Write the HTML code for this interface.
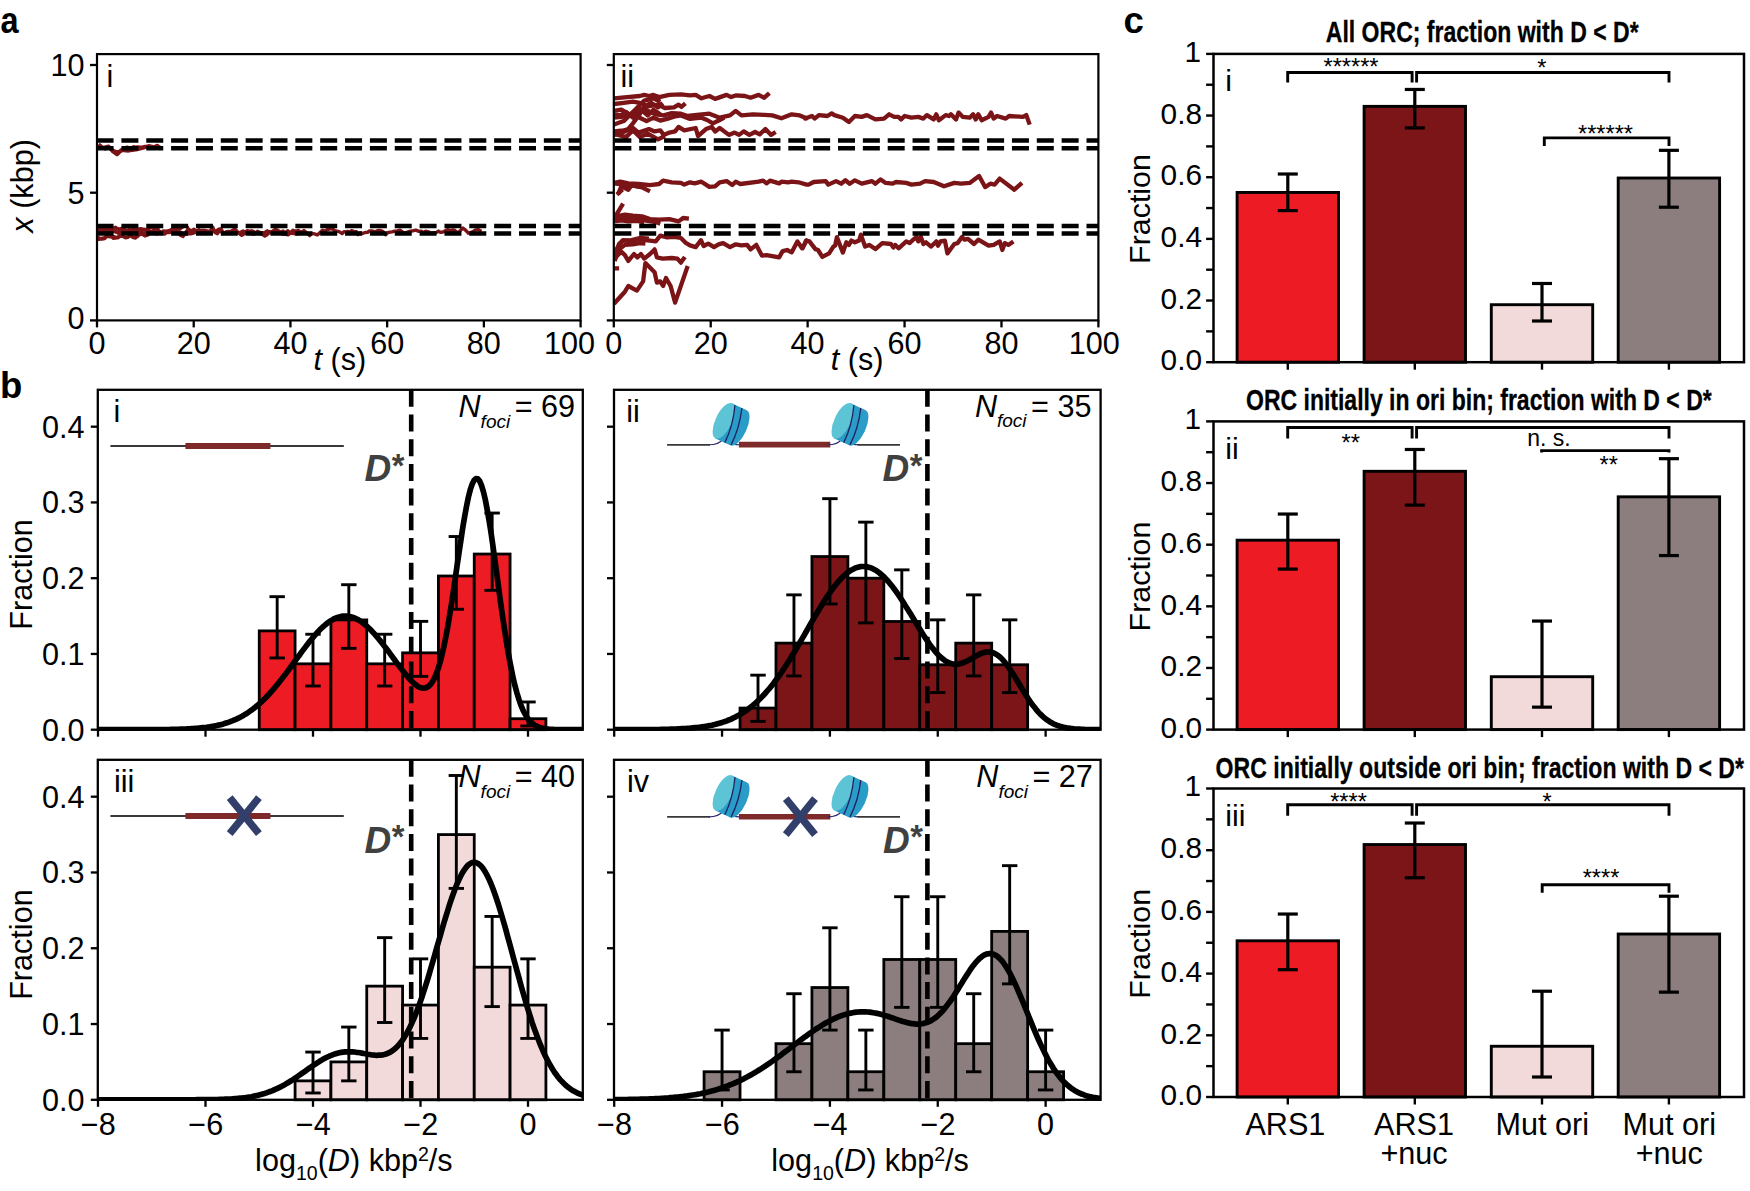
<!DOCTYPE html>
<html><head><meta charset="utf-8"><title>Figure</title>
<style>html,body{margin:0;padding:0;background:#fff;}svg{display:block}text{font-family:"Liberation Sans",Arial,Helvetica,sans-serif;}</style>
</head><body>
<svg width="1750" height="1191" viewBox="0 0 1750 1191">
<rect x="0" y="0" width="1750" height="1191" fill="#fff"/>
<text transform="translate(0.6,32.5) scale(0.89,1)" font-size="36.5" font-weight="bold">a</text>
<defs><clipPath id="ca0"><rect x="97" y="54.1" width="483.6" height="266.29999999999995"/></clipPath><clipPath id="ca1"><rect x="613.8" y="54.1" width="484.60000000000014" height="266.29999999999995"/></clipPath></defs>
<g clip-path="url(#ca0)">
<polyline points="98.6,144.3 102.9,147.9 108.6,146.4 112.9,151.4 117.1,154.3 121.4,150.0 128.6,150.7 137.1,149.3 142.9,147.9 148.6,146.0 154.3,147.1 157.1,145.7 161.4,148.6" fill="none" stroke="#7A1416" stroke-width="3.9" stroke-linejoin="round" stroke-linecap="butt" />
<polyline points="98.0,147.3 100.4,148.2 102.6,147.9 105.2,149.1 107.4,147.9 108.9,148.2 110.9,148.8 113.5,150.3 115.4,151.2 118.2,151.6 120.8,151.3 122.3,149.1 124.3,147.6 127.1,146.9 129.1,147.6 130.8,148.5 133.6,146.5 135.6,146.9 137.8,146.8 140.5,147.0 142.3,146.9 145.1,146.2 147.8,146.4" fill="none" stroke="#7A1416" stroke-width="3.0" stroke-linejoin="round" stroke-linecap="butt" />
<polyline points="97.0,230.1 99.8,229.3 102.9,230.1 104.6,227.9 106.9,231.3 109.9,230.8 111.8,230.2 114.2,231.0 116.7,232.2 118.8,232.0 121.8,231.9 124.6,231.0 126.5,230.8 128.2,230.7 131.1,231.3 134.2,232.3 137.2,231.2 139.6,234.6 142.3,234.1 144.9,236.0 148.0,234.9 150.2,232.7 152.1,232.5 154.3,232.5 156.8,234.0 159.0,233.0 161.1,233.0 163.2,231.0 165.6,231.1 168.7,230.9 170.4,231.2 172.1,228.9 174.9,229.0 176.6,231.4 178.4,232.9 180.3,235.2 183.1,236.4 185.3,232.9 187.5,230.1 189.3,230.4 192.1,231.7 193.8,229.2 196.8,231.3 199.4,232.1 202.4,230.3 204.9,233.4 207.0,232.2 208.8,232.7 210.7,230.6 212.6,226.9 214.3,230.6 216.6,230.9 218.6,229.2 221.0,228.9 223.2,232.9 225.0,233.3 227.4,232.9 230.1,231.7 233.1,230.1 235.0,229.1 237.3,231.7 239.4,233.7 241.7,235.3 244.8,233.6 247.1,230.6 249.5,231.2 251.6,230.8 253.8,231.6 256.9,233.4 259.3,232.1 261.5,232.8 264.3,232.8 267.2,230.8 270.0,232.9 272.7,231.2 274.9,229.5 277.6,230.2 280.4,232.3 283.1,231.1 285.7,234.4 288.2,234.7 290.2,233.4 292.9,230.3 295.5,231.4 298.3,230.4 301.1,232.5 303.9,230.6 306.9,233.1 309.6,235.6 312.0,233.3 314.4,233.8 317.4,234.9 319.8,232.7 322.5,230.3 324.5,231.2 327.1,229.7 329.4,229.0 332.0,228.6 334.7,230.7 337.0,231.2 339.6,231.8 342.2,233.6 344.0,231.8 345.7,231.9 347.6,231.4 349.6,232.2 351.3,230.7 353.9,231.4 356.4,231.7 358.1,234.5 360.3,232.9 362.2,233.6 365.1,232.5 367.6,232.3 369.4,230.9 371.9,230.9 375.0,231.8 377.9,230.5 380.5,230.5 383.0,231.5 385.5,234.8 388.1,232.5 390.2,232.1 392.1,231.9 394.6,231.2 397.2,230.9 400.1,230.2 402.1,231.8 404.2,233.0 407.3,232.1 410.3,231.1 413.4,230.7 415.8,230.1 418.9,231.4 421.3,231.1 423.1,232.8 425.7,231.2 428.5,231.8 431.4,233.3 433.4,232.7 436.5,232.4 438.5,231.1 440.4,232.4 443.0,232.0 445.4,230.7 448.1,229.7 450.0,230.6 452.4,230.0 454.6,230.2 456.9,232.4 459.1,232.0 460.8,230.1 462.9,228.0 465.8,230.4 468.3,233.2 470.6,232.7 473.1,231.7 475.5,229.9 478.5,229.7 481.4,231.4" fill="none" stroke="#7A1416" stroke-width="3.4" stroke-linejoin="round" stroke-linecap="butt" />
<polyline points="97.0,232.9 99.4,230.5 101.4,233.1 103.8,232.7 106.6,231.1 108.6,233.1 111.5,232.6 113.9,231.2 116.6,232.2 119.4,233.7 121.5,233.7 124.4,231.3 126.6,233.6 129.4,234.2 131.7,234.0 134.3,233.7 136.4,234.6 138.4,233.1 141.0,230.9 144.0,233.7 146.4,231.9 149.2,230.6 152.3,232.5 154.9,232.6 157.0,232.0 159.9,231.9 162.4,233.4 164.5,234.1 166.5,232.6 168.5,232.5 171.4,232.4 174.2,232.2 175.9,230.9 178.5,233.8 180.6,232.3 182.4,233.1 185.6,233.9 188.3,233.6 190.6,233.9 193.7,233.1 196.6,231.5 199.0,229.7 201.8,231.3 204.2,230.3 206.9,230.8 209.6,231.7 211.7,229.9 213.6,231.1 215.3,232.8 217.5,233.7 219.6,230.4 221.6,232.1 223.9,233.4 226.0,231.8 228.3,231.3 230.6,231.9 232.7,232.4 235.3,231.4 238.4,232.8 240.9,232.0 243.1,231.0 245.9,232.4 248.9,232.3 251.3,232.5 253.0,234.4 254.9,233.9 257.6,231.3 260.5,233.9 262.3,234.2 264.8,236.1 267.1,234.8 269.5,231.5 271.8,232.8 273.7,233.2 276.3,232.3 278.9,231.9 280.7,233.4 283.1,234.0 286.0,231.9 287.9,230.8 290.8,232.9 293.8,233.5 296.8,234.0 299.4,232.4" fill="none" stroke="#7A1416" stroke-width="3.4" stroke-linejoin="round" stroke-linecap="butt" />
<polyline points="97.0,230.3 99.6,231.1 101.4,229.7 103.2,229.8 105.6,231.5 107.4,231.4 109.2,228.9 111.0,230.8 113.0,228.5 115.5,227.2 117.8,229.1 120.7,229.7 122.8,230.5 124.9,231.1 127.8,231.6 130.4,232.7 132.6,231.3 134.4,230.8 136.3,230.2 138.5,229.1 141.0,228.7 143.8,229.9 146.5,230.3 148.9,232.1 151.9,231.3 155.0,229.9 156.8,228.3 158.7,230.4 161.1,232.4 163.9,232.0 166.4,232.2 169.1,230.7 171.6,229.4 174.5,229.2 177.5,228.0 179.3,229.5 182.0,227.5 184.9,225.6 187.0,226.4 188.7,229.6 191.0,230.3 192.8,231.0 195.6,231.5 197.8,231.8" fill="none" stroke="#7A1416" stroke-width="3.2" stroke-linejoin="round" stroke-linecap="butt" />
<polyline points="97.0,236.0 98.9,239.3 101.6,238.5 104.7,237.7 106.7,235.7 109.0,234.4 111.4,235.8 113.2,238.2 115.2,238.1 117.5,237.0 120.5,235.8 122.5,236.2 125.6,237.7 127.8,237.4 130.5,235.4 132.9,237.3 135.5,238.0 137.4,235.8 139.1,237.2" fill="none" stroke="#7A1416" stroke-width="3.4" stroke-linejoin="round" stroke-linecap="butt" />
<polyline points="97.0,236.9 98.9,237.6 101.8,239.2 104.8,238.7 106.6,236.8 108.3,236.8 110.5,237.0 113.3,236.2 115.2,237.0 117.6,238.1 120.6,236.3 122.8,235.9" fill="none" stroke="#7A1416" stroke-width="3.0" stroke-linejoin="round" stroke-linecap="butt" />
<polyline points="97.0,227.8 99.5,227.8 101.5,229.0 104.1,227.2 106.0,227.0 108.1,227.7 111.1,228.5 114.0,228.6 116.6,228.1 119.2,229.0 121.6,228.3 123.4,227.2 126.2,230.5 128.8,229.5 130.5,229.7 133.6,229.3 135.7,227.7 137.8,229.8 140.3,229.0 142.8,229.0 145.7,229.3 148.0,229.7 149.7,227.4 152.3,228.1 154.8,228.8 157.3,228.3 159.5,228.1" fill="none" stroke="#7A1416" stroke-width="3.0" stroke-linejoin="round" stroke-linecap="butt" />
</g>
<g clip-path="url(#ca1)">
<polyline points="614.0,98.3 627.1,97.1 639.7,96.0 644.3,94.9 648.9,96.0 653.4,94.9 659.1,97.1 669.4,94.9 680.9,94.3 690.0,95.4 695.7,94.9 701.4,98.3 709.4,96.0 715.1,98.9 726.6,94.9 731.1,97.1 735.7,95.4 744.9,96.0 750.6,97.7 758.6,94.9 764.3,97.7 769.4,93.1" fill="none" stroke="#7A1416" stroke-width="4.3" stroke-linejoin="round" stroke-linecap="butt" />
<polyline points="614.0,104.0 623.7,102.9 632.9,101.7 639.7,102.9 647.7,106.3 658.0,104.6 664.9,108.0 674.0,107.4 678.6,104.6 681.4,106.9 685.4,103.4" fill="none" stroke="#7A1416" stroke-width="4.3" stroke-linejoin="round" stroke-linecap="butt" />
<polyline points="614.0,110.9 621.4,109.7 629.4,114.3 638.6,113.1 644.3,108.6 650.0,112.0 655.7,114.3 663.7,115.4 671.7,113.1 680.9,113.7 687.7,116.0 696.9,114.9 709.4,113.7 719.7,117.7 730.0,115.4 735.7,110.9 741.4,115.4 752.9,114.3 764.3,114.9 772.3,115.4 781.4,118.3 791.7,114.3 799.7,115.4 806.6,118.3 805.1,118.6 812.0,116.0 814.6,118.6 818.9,115.1 827.4,116.0 831.7,113.4 834.3,115.1 842.9,117.7 848.9,122.0 854.9,116.0 861.7,116.9 866.9,115.1 875.4,119.4 884.0,118.6 889.1,114.3 894.3,116.9 898.6,116.9 901.1,119.4 904.6,116.0 911.4,117.7 918.3,116.9 923.4,118.6 926.9,115.1 933.7,119.4 936.3,114.3 938.9,120.3 945.7,115.1 949.1,116.0 950.9,114.3 956.0,119.4 958.6,112.6 962.9,116.9 969.7,117.7 973.1,114.3 975.7,119.4 978.3,114.3 981.7,120.3 988.6,116.9 991.1,112.6 993.7,118.6 997.1,116.0 1005.7,118.6 1009.1,116.0 1022.9,116.9 1026.3,115.1 1029.7,124.6" fill="none" stroke="#7A1416" stroke-width="4.3" stroke-linejoin="round" stroke-linecap="butt" />
<polyline points="614.0,117.7 623.7,116.6 632.9,113.1 639.7,117.7 646.6,121.1 653.4,117.7 660.3,120.6 667.1,118.9 674.0,116.6 680.9,115.4 690.0,118.9 701.4,117.7 707.1,120.0 712.9,123.4 719.7,120.0 724.3,117.7" fill="none" stroke="#7A1416" stroke-width="4.3" stroke-linejoin="round" stroke-linecap="butt" />
<polyline points="614.0,131.4 623.7,130.3 632.9,128.0 638.6,132.6 648.9,129.1 654.6,131.4 660.3,130.3 663.7,134.9 669.4,132.6 675.1,131.4 678.6,126.9 684.3,130.3 695.7,128.0 698.0,136.0 706.0,129.1 711.7,126.9 715.1,131.4 719.7,128.0 728.9,134.9 734.6,132.6 739.1,134.9 743.7,131.4 749.4,134.9 755.1,132.0 759.7,134.3 765.4,129.1 771.1,134.9 775.7,132.0" fill="none" stroke="#7A1416" stroke-width="4.3" stroke-linejoin="round" stroke-linecap="butt" />
<polyline points="614.0,134.9 620.3,133.7 627.1,130.3 632.9,123.4 639.7,114.3 644.3,106.3 651.1,102.9 658.0,107.4 662.6,102.9" fill="none" stroke="#7A1416" stroke-width="4.3" stroke-linejoin="round" stroke-linecap="butt" />
<polyline points="614.0,124.6 623.7,121.1 630.6,114.3 637.4,107.4 644.3,100.6 653.4,98.3 660.3,101.7" fill="none" stroke="#7A1416" stroke-width="4.3" stroke-linejoin="round" stroke-linecap="butt" />
<polyline points="614.0,114.3 620.3,115.4 626.0,112.0 632.9,117.7 639.7,108.6 647.7,115.4 653.4,109.7 660.3,114.3" fill="none" stroke="#7A1416" stroke-width="4.3" stroke-linejoin="round" stroke-linecap="butt" />
<polyline points="614.0,133.7 626.0,137.1 632.9,130.3 639.7,137.1 647.7,133.7 658.0,139.4 664.9,136.0" fill="none" stroke="#7A1416" stroke-width="4.3" stroke-linejoin="round" stroke-linecap="butt" />
<polyline points="614.0,182.9 620.3,181.7 628.3,183.4 638.6,184.0 650.0,185.1 659.1,184.0 663.1,180.6 671.7,182.3 680.9,182.9 684.3,184.6 690.0,182.3 694.6,183.4 701.4,181.7 709.4,186.9 715.1,186.3 719.7,182.3 726.6,181.1 732.3,185.1 735.7,181.7 740.3,184.0 758.6,181.7 763.1,180.6 766.6,183.4 770.0,180.6 779.1,183.4 781.4,181.7 788.3,182.3 791.7,181.7 798.6,182.3 806.6,184.6 808.6,184.6 813.7,182.0 825.7,181.1 828.3,184.6 836.0,181.1 841.1,183.7 845.4,180.3 849.7,183.7 854.9,180.3 861.7,183.7 872.0,181.1 875.4,183.7 880.6,179.4 885.7,182.9 892.6,183.7 896.0,182.0 906.3,182.9 911.4,184.6 920.0,183.7 925.1,181.1 933.7,182.0 944.0,186.3 954.3,182.9 961.1,183.7 969.7,182.9 979.1,176.0 985.1,187.1 990.3,183.7 994.6,184.6 999.7,178.6 1014.3,189.7 1022.0,182.9" fill="none" stroke="#7A1416" stroke-width="4.3" stroke-linejoin="round" stroke-linecap="butt" />
<polyline points="618.0,194.3 621.4,186.3 628.3,189.7 631.7,185.1 642.0,187.4 650.0,191.4" fill="none" stroke="#7A1416" stroke-width="4.3" stroke-linejoin="round" stroke-linecap="butt" />
<polyline points="614.0,183.4 623.7,184.6 632.9,185.7 639.7,186.9" fill="none" stroke="#7A1416" stroke-width="4.3" stroke-linejoin="round" stroke-linecap="butt" />
<polyline points="616.9,194.6 622.6,189.4" fill="none" stroke="#7A1416" stroke-width="4.3" stroke-linejoin="round" stroke-linecap="butt" />
<polyline points="614.0,218.6 623.1,203.7" fill="none" stroke="#7A1416" stroke-width="4.3" stroke-linejoin="round" stroke-linecap="butt" />
<polyline points="614.0,216.9 624.9,214.6 632.9,215.7 642.0,216.3 650.0,219.1 659.1,219.7 669.4,219.1 678.6,221.4 683.1,218.0 688.9,218.6" fill="none" stroke="#7A1416" stroke-width="4.3" stroke-linejoin="round" stroke-linecap="butt" />
<polyline points="614.0,219.1 621.4,217.4 630.6,218.6 639.7,219.1 647.7,220.9 655.7,222.0 660.3,223.7" fill="none" stroke="#7A1416" stroke-width="4.3" stroke-linejoin="round" stroke-linecap="butt" />
<polyline points="614.0,221.4 621.4,220.3 628.3,221.4 637.4,220.9 644.3,222.6" fill="none" stroke="#7A1416" stroke-width="4.3" stroke-linejoin="round" stroke-linecap="butt" />
<polyline points="614.0,256.9 619.1,243.7 623.7,240.3 632.9,241.4 638.6,239.1 647.7,240.3 655.7,241.4 660.3,235.7 667.1,237.4 674.0,236.9 680.9,238.0 685.4,242.6 690.0,245.4 695.7,247.1 700.9,240.3 703.7,246.0 708.3,243.7 714.0,247.1 718.6,244.3 723.1,243.1 730.0,247.1 735.7,244.3 741.4,245.4 747.1,244.9 750.6,249.4 756.3,244.9 762.0,255.7 766.6,255.1 779.1,257.4 782.6,251.1 787.1,250.0 791.7,252.3 797.4,241.4 802.0,248.3 806.6,240.3 802.6,248.3 806.0,240.6 809.4,241.4 815.4,249.1 818.0,250.0 822.3,256.9 829.1,253.4 833.4,246.6 835.1,245.7 836.9,237.1 842.9,252.6 846.3,242.3 848.9,244.9 851.4,240.6 854.9,242.3 859.1,240.6 860.9,234.6 865.1,246.6 869.4,244.9 875.4,249.1 882.3,243.1 890.9,244.0 893.4,247.4 895.1,244.9 898.6,248.3 906.3,241.4 909.7,243.1 913.1,239.7 916.6,237.1 918.3,241.4 920.9,237.1 923.4,244.0 926.0,242.3 931.1,246.6 936.3,241.4 938.0,245.7 940.6,241.4 944.9,240.6 947.4,253.4 954.3,244.0 957.7,243.1 962.0,237.1 964.6,239.7 968.0,238.9 974.0,244.0 978.3,239.7 988.6,245.7 993.7,244.9 999.7,241.4 1002.3,250.0 1004.9,243.1 1008.3,244.9 1013.4,241.4" fill="none" stroke="#7A1416" stroke-width="4.3" stroke-linejoin="round" stroke-linecap="butt" />
<polyline points="614.0,254.0 618.0,247.1 622.6,240.3 630.6,240.3 639.7,238.0 648.9,238.6" fill="none" stroke="#7A1416" stroke-width="4.3" stroke-linejoin="round" stroke-linecap="butt" />
<polyline points="614.6,260.9 619.1,249.4 624.9,244.9 632.9,244.3 639.7,243.1 645.4,243.7" fill="none" stroke="#7A1416" stroke-width="4.3" stroke-linejoin="round" stroke-linecap="butt" />
<polyline points="614.0,258.6 621.4,251.7 624.9,255.1 628.3,260.9 634.0,254.0 637.4,257.4 640.9,254.0 644.3,258.6 650.0,254.0 654.6,249.4 656.9,257.4 662.6,258.6 671.7,258.0 677.4,258.6 680.9,262.6 684.9,256.9" fill="none" stroke="#7A1416" stroke-width="4.3" stroke-linejoin="round" stroke-linecap="butt" />
<polyline points="614.0,303.7 624.9,291.7 628.3,286.0 636.9,290.6 643.1,281.4 645.4,263.1 654.6,272.3 656.9,282.6 660.3,281.4 663.1,286.0 666.0,278.0 670.6,286.0 675.1,302.6 687.7,266.0" fill="none" stroke="#7A1416" stroke-width="4.3" stroke-linejoin="round" stroke-linecap="butt" />
<polyline points="614.0,268.3 619.1,268.3" fill="none" stroke="#7A1416" stroke-width="4.3" stroke-linejoin="round" stroke-linecap="butt" />
</g>
<line x1="96.55" y1="140.6" x2="580.6" y2="140.6" stroke="#000" stroke-width="4.5" stroke-dasharray="17 7.85"/>
<line x1="96.55" y1="148.2" x2="580.6" y2="148.2" stroke="#000" stroke-width="4.5" stroke-dasharray="17 7.85"/>
<line x1="96.55" y1="226.1" x2="580.6" y2="226.1" stroke="#000" stroke-width="4.5" stroke-dasharray="17 7.85"/>
<line x1="96.55" y1="233.4" x2="580.6" y2="233.4" stroke="#000" stroke-width="4.5" stroke-dasharray="17 7.85"/>
<rect x="97.00" y="54.10" width="483.60" height="266.30" fill="none" stroke="#000" stroke-width="2.2" />
<line x1="97.00" y1="320.40" x2="97.00" y2="327.40" stroke="#000" stroke-width="2.3" />
<text x="97.00" y="353.60" font-size="30.6" text-anchor="middle" fill="#000" >0</text>
<line x1="193.72" y1="320.40" x2="193.72" y2="327.40" stroke="#000" stroke-width="2.3" />
<text x="193.72" y="353.60" font-size="30.6" text-anchor="middle" fill="#000" >20</text>
<line x1="290.44" y1="320.40" x2="290.44" y2="327.40" stroke="#000" stroke-width="2.3" />
<text x="290.44" y="353.60" font-size="30.6" text-anchor="middle" fill="#000" >40</text>
<line x1="387.16" y1="320.40" x2="387.16" y2="327.40" stroke="#000" stroke-width="2.3" />
<text x="387.16" y="353.60" font-size="30.6" text-anchor="middle" fill="#000" >60</text>
<line x1="483.88" y1="320.40" x2="483.88" y2="327.40" stroke="#000" stroke-width="2.3" />
<text x="483.88" y="353.60" font-size="30.6" text-anchor="middle" fill="#000" >80</text>
<line x1="580.60" y1="320.40" x2="580.60" y2="327.40" stroke="#000" stroke-width="2.3" />
<text x="569.50" y="353.60" font-size="30.6" text-anchor="middle" fill="#000" >100</text>
<line x1="90.00" y1="320.40" x2="97.00" y2="320.40" stroke="#000" stroke-width="2.3" />
<text x="84.60" y="328.90" font-size="30.6" text-anchor="end" fill="#000" >0</text>
<line x1="90.00" y1="192.70" x2="97.00" y2="192.70" stroke="#000" stroke-width="2.3" />
<text x="84.60" y="203.60" font-size="30.6" text-anchor="end" fill="#000" >5</text>
<line x1="90.00" y1="65.00" x2="97.00" y2="65.00" stroke="#000" stroke-width="2.3" />
<text x="84.60" y="75.90" font-size="30.6" text-anchor="end" fill="#000" >10</text>
<text x="339.80" y="369.70" font-size="30.6" text-anchor="middle" fill="#000" ><tspan font-style="italic">t</tspan> (s)</text>
<text x="106.50" y="87.00" font-size="30.6" text-anchor="start" fill="#000" >i</text>
<line x1="614.3499999999999" y1="140.6" x2="1098.4" y2="140.6" stroke="#000" stroke-width="4.5" stroke-dasharray="17 7.85"/>
<line x1="614.3499999999999" y1="148.2" x2="1098.4" y2="148.2" stroke="#000" stroke-width="4.5" stroke-dasharray="17 7.85"/>
<line x1="614.3499999999999" y1="226.1" x2="1098.4" y2="226.1" stroke="#000" stroke-width="4.5" stroke-dasharray="17 7.85"/>
<line x1="614.3499999999999" y1="233.4" x2="1098.4" y2="233.4" stroke="#000" stroke-width="4.5" stroke-dasharray="17 7.85"/>
<rect x="613.80" y="54.10" width="484.60" height="266.30" fill="none" stroke="#000" stroke-width="2.2" />
<line x1="613.80" y1="320.40" x2="613.80" y2="327.40" stroke="#000" stroke-width="2.3" />
<text x="613.80" y="353.60" font-size="30.6" text-anchor="middle" fill="#000" >0</text>
<line x1="710.72" y1="320.40" x2="710.72" y2="327.40" stroke="#000" stroke-width="2.3" />
<text x="710.72" y="353.60" font-size="30.6" text-anchor="middle" fill="#000" >20</text>
<line x1="807.64" y1="320.40" x2="807.64" y2="327.40" stroke="#000" stroke-width="2.3" />
<text x="807.64" y="353.60" font-size="30.6" text-anchor="middle" fill="#000" >40</text>
<line x1="904.56" y1="320.40" x2="904.56" y2="327.40" stroke="#000" stroke-width="2.3" />
<text x="904.56" y="353.60" font-size="30.6" text-anchor="middle" fill="#000" >60</text>
<line x1="1001.48" y1="320.40" x2="1001.48" y2="327.40" stroke="#000" stroke-width="2.3" />
<text x="1001.48" y="353.60" font-size="30.6" text-anchor="middle" fill="#000" >80</text>
<line x1="1098.40" y1="320.40" x2="1098.40" y2="327.40" stroke="#000" stroke-width="2.3" />
<text x="1094.20" y="353.60" font-size="30.6" text-anchor="middle" fill="#000" >100</text>
<line x1="606.80" y1="320.40" x2="613.80" y2="320.40" stroke="#000" stroke-width="2.3" />
<line x1="606.80" y1="192.70" x2="613.80" y2="192.70" stroke="#000" stroke-width="2.3" />
<line x1="606.80" y1="65.00" x2="613.80" y2="65.00" stroke="#000" stroke-width="2.3" />
<text x="857.10" y="369.70" font-size="30.6" text-anchor="middle" fill="#000" ><tspan font-style="italic">t</tspan> (s)</text>
<text x="620.40" y="87.00" font-size="30.6" text-anchor="start" fill="#000" >ii</text>
<text transform="translate(32.5,185.9) rotate(-90)" font-size="30.6" text-anchor="middle"><tspan font-style="italic">x</tspan> (kbp)</text>
<text x="0.00" y="397.50" font-size="36.5" text-anchor="start" fill="#000" font-weight="bold">b</text>
<defs>
<clipPath id="cb0"><rect x="97.8" y="389.8" width="484.99999999999994" height="341.1"/></clipPath>
<clipPath id="cb1"><rect x="614.0" y="389.8" width="486.5999999999999" height="341.1"/></clipPath>
<clipPath id="cb2"><rect x="97.8" y="759.8" width="484.99999999999994" height="341.2"/></clipPath>
<clipPath id="cb3"><rect x="614.0" y="759.8" width="486.5999999999999" height="341.2"/></clipPath>
</defs>
<rect x="259.25" y="630.89" width="35.83" height="98.81" fill="#ED1C24" stroke="#000" stroke-width="2.8" />
<rect x="295.08" y="663.83" width="35.83" height="65.87" fill="#ED1C24" stroke="#000" stroke-width="2.8" />
<rect x="330.92" y="619.91" width="35.83" height="109.79" fill="#ED1C24" stroke="#000" stroke-width="2.8" />
<rect x="366.75" y="663.83" width="35.83" height="65.87" fill="#ED1C24" stroke="#000" stroke-width="2.8" />
<rect x="402.58" y="652.85" width="35.83" height="76.85" fill="#ED1C24" stroke="#000" stroke-width="2.8" />
<rect x="438.41" y="576.00" width="35.83" height="153.70" fill="#ED1C24" stroke="#000" stroke-width="2.8" />
<rect x="474.25" y="554.04" width="35.83" height="175.66" fill="#ED1C24" stroke="#000" stroke-width="2.8" />
<rect x="510.08" y="718.72" width="35.83" height="10.98" fill="#ED1C24" stroke="#000" stroke-width="2.8" />
<line x1="277.17" y1="596.68" x2="277.17" y2="657.96" stroke="#000" stroke-width="2.9" />
<line x1="269.47" y1="596.68" x2="284.87" y2="596.68" stroke="#000" stroke-width="2.9" />
<line x1="269.47" y1="657.96" x2="284.87" y2="657.96" stroke="#000" stroke-width="2.9" />
<line x1="313.00" y1="634.25" x2="313.00" y2="685.99" stroke="#000" stroke-width="2.9" />
<line x1="305.30" y1="634.25" x2="320.70" y2="634.25" stroke="#000" stroke-width="2.9" />
<line x1="305.30" y1="685.99" x2="320.70" y2="685.99" stroke="#000" stroke-width="2.9" />
<line x1="348.83" y1="584.71" x2="348.83" y2="648.34" stroke="#000" stroke-width="2.9" />
<line x1="341.13" y1="584.71" x2="356.53" y2="584.71" stroke="#000" stroke-width="2.9" />
<line x1="341.13" y1="648.34" x2="356.53" y2="648.34" stroke="#000" stroke-width="2.9" />
<line x1="384.67" y1="634.25" x2="384.67" y2="685.99" stroke="#000" stroke-width="2.9" />
<line x1="376.97" y1="634.25" x2="392.37" y2="634.25" stroke="#000" stroke-width="2.9" />
<line x1="376.97" y1="685.99" x2="392.37" y2="685.99" stroke="#000" stroke-width="2.9" />
<line x1="420.50" y1="621.37" x2="420.50" y2="676.37" stroke="#000" stroke-width="2.9" />
<line x1="412.80" y1="621.37" x2="428.20" y2="621.37" stroke="#000" stroke-width="2.9" />
<line x1="412.80" y1="676.37" x2="428.20" y2="676.37" stroke="#000" stroke-width="2.9" />
<line x1="456.33" y1="536.53" x2="456.33" y2="609.25" stroke="#000" stroke-width="2.9" />
<line x1="448.63" y1="536.53" x2="464.03" y2="536.53" stroke="#000" stroke-width="2.9" />
<line x1="448.63" y1="609.25" x2="464.03" y2="609.25" stroke="#000" stroke-width="2.9" />
<line x1="492.16" y1="513.05" x2="492.16" y2="590.32" stroke="#000" stroke-width="2.9" />
<line x1="484.46" y1="513.05" x2="499.86" y2="513.05" stroke="#000" stroke-width="2.9" />
<line x1="484.46" y1="590.32" x2="499.86" y2="590.32" stroke="#000" stroke-width="2.9" />
<line x1="528.00" y1="701.97" x2="528.00" y2="725.99" stroke="#000" stroke-width="2.9" />
<line x1="520.30" y1="701.97" x2="535.70" y2="701.97" stroke="#000" stroke-width="2.9" />
<line x1="520.30" y1="725.99" x2="535.70" y2="725.99" stroke="#000" stroke-width="2.9" />
<line x1="411.2" y1="389.8" x2="411.2" y2="729.7" stroke="#000" stroke-width="4.6" stroke-dasharray="17 7.7"/>
<polyline points="98.0,729.7 99.9,729.7 101.7,729.7 103.6,729.7 105.5,729.7 107.4,729.7 109.2,729.7 111.1,729.7 113.0,729.7 114.8,729.7 116.7,729.7 118.6,729.7 120.5,729.7 122.3,729.7 124.2,729.7 126.1,729.7 127.9,729.7 129.8,729.7 131.7,729.7 133.5,729.7 135.4,729.7 137.3,729.7 139.2,729.7 141.0,729.7 142.9,729.7 144.8,729.7 146.6,729.7 148.5,729.7 150.4,729.6 152.3,729.6 154.1,729.6 156.0,729.6 157.9,729.6 159.7,729.6 161.6,729.6 163.5,729.5 165.4,729.5 167.2,729.5 169.1,729.5 171.0,729.4 172.8,729.4 174.7,729.4 176.6,729.3 178.4,729.3 180.3,729.2 182.2,729.1 184.1,729.1 185.9,729.0 187.8,728.9 189.7,728.8 191.5,728.7 193.4,728.6 195.3,728.4 197.2,728.3 199.0,728.1 200.9,727.9 202.8,727.7 204.6,727.5 206.5,727.3 208.4,727.0 210.3,726.7 212.1,726.4 214.0,726.1 215.9,725.7 217.7,725.3 219.6,724.9 221.5,724.4 223.4,723.9 225.2,723.3 227.1,722.7 229.0,722.1 230.8,721.4 232.7,720.7 234.6,719.9 236.4,719.1 238.3,718.2 240.2,717.2 242.1,716.2 243.9,715.1 245.8,714.0 247.7,712.8 249.5,711.5 251.4,710.2 253.3,708.8 255.2,707.3 257.0,705.8 258.9,704.1 260.8,702.5 262.6,700.7 264.5,698.9 266.4,697.0 268.3,695.0 270.1,693.0 272.0,690.9 273.9,688.7 275.7,686.5 277.6,684.2 279.5,681.9 281.3,679.5 283.2,677.1 285.1,674.6 287.0,672.1 288.8,669.6 290.7,667.0 292.6,664.5 294.4,661.9 296.3,659.3 298.2,656.8 300.1,654.2 301.9,651.6 303.8,649.1 305.7,646.6 307.5,644.2 309.4,641.8 311.3,639.5 313.2,637.2 315.0,635.1 316.9,633.0 318.8,630.9 320.6,629.0 322.5,627.2 324.4,625.6 326.3,624.0 328.1,622.5 330.0,621.2 331.9,620.1 333.7,619.0 335.6,618.2 337.5,617.4 339.3,616.9 341.2,616.4 343.1,616.2 345.0,616.1 346.8,616.1 348.7,616.3 350.6,616.7 352.4,617.2 354.3,617.9 356.2,618.8 358.1,619.7 359.9,620.9 361.8,622.1 363.7,623.5 365.5,625.1 367.4,626.7 369.3,628.5 371.2,630.3 373.0,632.3 374.9,634.4 376.8,636.6 378.6,638.8 380.5,641.1 382.4,643.5 384.2,645.9 386.1,648.3 388.0,650.8 389.9,653.4 391.7,655.9 393.6,658.5 395.5,661.0 397.3,663.6 399.2,666.1 401.1,668.6 403.0,671.0 404.8,673.4 406.7,675.7 408.6,677.8 410.4,679.9 412.3,681.8 414.2,683.6 416.1,685.1 417.9,686.4 419.8,687.4 421.7,688.0 423.5,688.2 425.4,688.0 427.3,687.2 429.2,685.9 431.0,683.8 432.9,681.0 434.8,677.4 436.6,673.0 438.5,667.6 440.4,661.2 442.2,653.9 444.1,645.5 446.0,636.2 447.9,626.0 449.7,614.9 451.6,603.1 453.5,590.7 455.3,578.0 457.2,565.0 459.1,552.1 461.0,539.5 462.8,527.4 464.7,516.2 466.6,506.0 468.4,497.1 470.3,489.7 472.2,484.1 474.1,480.3 475.9,478.6 477.8,478.8 479.7,481.1 481.5,485.4 483.4,491.6 485.3,499.6 487.1,509.1 489.0,519.9 490.9,531.9 492.8,544.8 494.6,558.2 496.5,572.0 498.4,585.9 500.2,599.6 502.1,613.0 504.0,625.9 505.9,638.2 507.7,649.6 509.6,660.2 511.5,669.9 513.3,678.7 515.2,686.6 517.1,693.5 519.0,699.6 520.8,704.8 522.7,709.4 524.6,713.2 526.4,716.4 528.3,719.1 530.2,721.3 532.0,723.1 533.9,724.6 535.8,725.7 537.7,726.6 539.5,727.4 541.4,727.9 543.3,728.4 545.1,728.7 547.0,729.0 548.9,729.2 550.8,729.3 552.6,729.4 554.5,729.5 556.4,729.6 558.2,729.6 560.1,729.6 562.0,729.6 563.9,729.7 565.7,729.7 567.6,729.7 569.5,729.7 571.3,729.7 573.2,729.7 575.1,729.7 577.0,729.7 578.8,729.7 580.7,729.7 582.6,729.7 584.4,729.7" fill="none" stroke="#000" stroke-width="5.7" stroke-linejoin="round" clip-path="url(#cb0)"/>
<rect x="97.80" y="389.80" width="485.00" height="339.90" fill="none" stroke="#000" stroke-width="2.3" />
<line x1="98.00" y1="729.70" x2="98.00" y2="736.70" stroke="#000" stroke-width="2.3" />
<line x1="205.50" y1="729.70" x2="205.50" y2="736.70" stroke="#000" stroke-width="2.3" />
<line x1="313.00" y1="729.70" x2="313.00" y2="736.70" stroke="#000" stroke-width="2.3" />
<line x1="420.50" y1="729.70" x2="420.50" y2="736.70" stroke="#000" stroke-width="2.3" />
<line x1="528.00" y1="729.70" x2="528.00" y2="736.70" stroke="#000" stroke-width="2.3" />
<line x1="90.80" y1="729.70" x2="97.80" y2="729.70" stroke="#000" stroke-width="2.3" />
<text x="84.60" y="740.60" font-size="30.6" text-anchor="end" fill="#000" >0.0</text>
<line x1="90.80" y1="653.95" x2="97.80" y2="653.95" stroke="#000" stroke-width="2.3" />
<text x="84.60" y="664.85" font-size="30.6" text-anchor="end" fill="#000" >0.1</text>
<line x1="90.80" y1="578.20" x2="97.80" y2="578.20" stroke="#000" stroke-width="2.3" />
<text x="84.60" y="589.10" font-size="30.6" text-anchor="end" fill="#000" >0.2</text>
<line x1="90.80" y1="502.44" x2="97.80" y2="502.44" stroke="#000" stroke-width="2.3" />
<text x="84.60" y="513.34" font-size="30.6" text-anchor="end" fill="#000" >0.3</text>
<line x1="90.80" y1="426.69" x2="97.80" y2="426.69" stroke="#000" stroke-width="2.3" />
<text x="84.60" y="437.59" font-size="30.6" text-anchor="end" fill="#000" >0.4</text>
<text transform="translate(31.8,574.5) rotate(-90)" font-size="30.6" text-anchor="middle">Fraction</text>
<text x="113.40" y="421.70" font-size="30.6" text-anchor="start" fill="#000" >i</text>
<text x="575.10" y="417.30" font-size="30.6" text-anchor="end" fill="#000" ><tspan font-style="italic">N</tspan><tspan font-style="italic" font-size="19" dy="10.2">foci</tspan><tspan dy="-10.2" dx="4.5">= 69</tspan></text>
<text x="364.60" y="480.70" font-size="37" text-anchor="start" fill="#404040" font-weight="bold" font-style="italic">D<tspan font-size="32.5" dy="-4.2" dx="-0.9">*</tspan></text>
<line x1="110.40" y1="446.00" x2="343.80" y2="446.00" stroke="#383838" stroke-width="2.0" />
<line x1="185.40" y1="446.00" x2="270.40" y2="446.00" stroke="#7E2A2B" stroke-width="5.8" />
<rect x="740.03" y="708.06" width="35.95" height="21.64" fill="#7B1517" stroke="#000" stroke-width="2.8" />
<rect x="775.98" y="643.13" width="35.95" height="86.57" fill="#7B1517" stroke="#000" stroke-width="2.8" />
<rect x="811.93" y="556.55" width="35.95" height="173.15" fill="#7B1517" stroke="#000" stroke-width="2.8" />
<rect x="847.88" y="578.20" width="35.95" height="151.50" fill="#7B1517" stroke="#000" stroke-width="2.8" />
<rect x="883.84" y="621.48" width="35.95" height="108.22" fill="#7B1517" stroke="#000" stroke-width="2.8" />
<rect x="919.79" y="664.77" width="35.95" height="64.93" fill="#7B1517" stroke="#000" stroke-width="2.8" />
<rect x="955.74" y="643.13" width="35.95" height="86.57" fill="#7B1517" stroke="#000" stroke-width="2.8" />
<rect x="991.69" y="664.77" width="35.95" height="64.93" fill="#7B1517" stroke="#000" stroke-width="2.8" />
<line x1="758.01" y1="675.16" x2="758.01" y2="721.37" stroke="#000" stroke-width="2.9" />
<line x1="750.31" y1="675.16" x2="765.71" y2="675.16" stroke="#000" stroke-width="2.9" />
<line x1="750.31" y1="721.37" x2="765.71" y2="721.37" stroke="#000" stroke-width="2.9" />
<line x1="793.96" y1="594.86" x2="793.96" y2="675.92" stroke="#000" stroke-width="2.9" />
<line x1="786.26" y1="594.86" x2="801.66" y2="594.86" stroke="#000" stroke-width="2.9" />
<line x1="786.26" y1="675.92" x2="801.66" y2="675.92" stroke="#000" stroke-width="2.9" />
<line x1="829.91" y1="498.66" x2="829.91" y2="603.95" stroke="#000" stroke-width="2.9" />
<line x1="822.21" y1="498.66" x2="837.61" y2="498.66" stroke="#000" stroke-width="2.9" />
<line x1="822.21" y1="603.95" x2="837.61" y2="603.95" stroke="#000" stroke-width="2.9" />
<line x1="865.86" y1="522.14" x2="865.86" y2="622.89" stroke="#000" stroke-width="2.9" />
<line x1="858.16" y1="522.14" x2="873.56" y2="522.14" stroke="#000" stroke-width="2.9" />
<line x1="858.16" y1="622.89" x2="873.56" y2="622.89" stroke="#000" stroke-width="2.9" />
<line x1="901.81" y1="569.86" x2="901.81" y2="658.49" stroke="#000" stroke-width="2.9" />
<line x1="894.11" y1="569.86" x2="909.51" y2="569.86" stroke="#000" stroke-width="2.9" />
<line x1="894.11" y1="658.49" x2="909.51" y2="658.49" stroke="#000" stroke-width="2.9" />
<line x1="937.76" y1="619.86" x2="937.76" y2="692.58" stroke="#000" stroke-width="2.9" />
<line x1="930.06" y1="619.86" x2="945.46" y2="619.86" stroke="#000" stroke-width="2.9" />
<line x1="930.06" y1="692.58" x2="945.46" y2="692.58" stroke="#000" stroke-width="2.9" />
<line x1="973.71" y1="594.86" x2="973.71" y2="675.92" stroke="#000" stroke-width="2.9" />
<line x1="966.01" y1="594.86" x2="981.41" y2="594.86" stroke="#000" stroke-width="2.9" />
<line x1="966.01" y1="675.92" x2="981.41" y2="675.92" stroke="#000" stroke-width="2.9" />
<line x1="1009.67" y1="619.86" x2="1009.67" y2="692.58" stroke="#000" stroke-width="2.9" />
<line x1="1001.97" y1="619.86" x2="1017.37" y2="619.86" stroke="#000" stroke-width="2.9" />
<line x1="1001.97" y1="692.58" x2="1017.37" y2="692.58" stroke="#000" stroke-width="2.9" />
<line x1="927.4" y1="389.8" x2="927.4" y2="729.7" stroke="#000" stroke-width="4.6" stroke-dasharray="17 7.7"/>
<polyline points="614.2,729.7 616.1,729.7 618.0,729.7 619.8,729.7 621.7,729.7 623.6,729.7 625.5,729.7 627.3,729.7 629.2,729.7 631.1,729.7 633.0,729.7 634.8,729.7 636.7,729.6 638.6,729.6 640.5,729.6 642.4,729.6 644.2,729.6 646.1,729.6 648.0,729.6 649.9,729.6 651.7,729.5 653.6,729.5 655.5,729.5 657.4,729.5 659.2,729.5 661.1,729.4 663.0,729.4 664.9,729.3 666.8,729.3 668.6,729.3 670.5,729.2 672.4,729.1 674.3,729.1 676.1,729.0 678.0,728.9 679.9,728.8 681.8,728.7 683.7,728.6 685.5,728.5 687.4,728.4 689.3,728.3 691.2,728.1 693.0,727.9 694.9,727.7 696.8,727.5 698.7,727.3 700.5,727.1 702.4,726.8 704.3,726.5 706.2,726.2 708.1,725.9 709.9,725.5 711.8,725.2 713.7,724.7 715.6,724.3 717.4,723.8 719.3,723.3 721.2,722.7 723.1,722.1 724.9,721.5 726.8,720.8 728.7,720.0 730.6,719.3 732.5,718.4 734.3,717.5 736.2,716.6 738.1,715.6 740.0,714.5 741.8,713.4 743.7,712.2 745.6,710.9 747.5,709.6 749.3,708.2 751.2,706.7 753.1,705.2 755.0,703.5 756.9,701.8 758.7,700.1 760.6,698.2 762.5,696.3 764.4,694.3 766.2,692.2 768.1,690.0 770.0,687.8 771.9,685.4 773.8,683.0 775.6,680.5 777.5,678.0 779.4,675.3 781.3,672.6 783.1,669.8 785.0,667.0 786.9,664.1 788.8,661.1 790.6,658.1 792.5,655.0 794.4,651.9 796.3,648.8 798.2,645.6 800.0,642.3 801.9,639.1 803.8,635.8 805.7,632.5 807.5,629.3 809.4,626.0 811.3,622.7 813.2,619.5 815.0,616.2 816.9,613.0 818.8,609.9 820.7,606.8 822.6,603.8 824.4,600.8 826.3,597.9 828.2,595.1 830.1,592.3 831.9,589.7 833.8,587.2 835.7,584.8 837.6,582.5 839.4,580.4 841.3,578.3 843.2,576.5 845.1,574.7 847.0,573.1 848.8,571.7 850.7,570.5 852.6,569.4 854.5,568.4 856.3,567.7 858.2,567.1 860.1,566.7 862.0,566.5 863.9,566.5 865.7,566.6 867.6,566.9 869.5,567.4 871.4,568.1 873.2,568.9 875.1,569.9 877.0,571.1 878.9,572.5 880.7,574.0 882.6,575.6 884.5,577.4 886.4,579.4 888.3,581.5 890.1,583.7 892.0,586.1 893.9,588.5 895.8,591.1 897.6,593.7 899.5,596.5 901.4,599.3 903.3,602.2 905.1,605.2 907.0,608.2 908.9,611.2 910.8,614.3 912.7,617.4 914.5,620.5 916.4,623.6 918.3,626.7 920.2,629.8 922.0,632.8 923.9,635.7 925.8,638.6 927.7,641.4 929.5,644.1 931.4,646.7 933.3,649.1 935.2,651.4 937.1,653.6 938.9,655.5 940.8,657.3 942.7,658.9 944.6,660.3 946.4,661.5 948.3,662.5 950.2,663.3 952.1,663.8 954.0,664.1 955.8,664.2 957.7,664.1 959.6,663.8 961.5,663.3 963.3,662.7 965.2,661.9 967.1,661.0 969.0,660.0 970.8,659.0 972.7,657.9 974.6,656.8 976.5,655.7 978.4,654.8 980.2,653.9 982.1,653.1 984.0,652.5 985.9,652.1 987.7,652.0 989.6,652.0 991.5,652.3 993.4,652.9 995.2,653.8 997.1,654.9 999.0,656.3 1000.9,657.9 1002.8,659.9 1004.6,662.0 1006.5,664.4 1008.4,666.9 1010.3,669.7 1012.1,672.5 1014.0,675.5 1015.9,678.6 1017.8,681.7 1019.6,684.8 1021.5,688.0 1023.4,691.0 1025.3,694.1 1027.2,697.0 1029.0,699.9 1030.9,702.6 1032.8,705.2 1034.7,707.6 1036.5,709.9 1038.4,712.1 1040.3,714.1 1042.2,715.9 1044.1,717.6 1045.9,719.1 1047.8,720.4 1049.7,721.7 1051.6,722.8 1053.4,723.8 1055.3,724.6 1057.2,725.4 1059.1,726.0 1060.9,726.6 1062.8,727.1 1064.7,727.5 1066.6,727.9 1068.5,728.2 1070.3,728.4 1072.2,728.7 1074.1,728.9 1076.0,729.0 1077.8,729.1 1079.7,729.2 1081.6,729.3 1083.5,729.4 1085.3,729.5 1087.2,729.5 1089.1,729.5 1091.0,729.6 1092.9,729.6 1094.7,729.6 1096.6,729.6 1098.5,729.6 1100.4,729.7 1102.2,729.7" fill="none" stroke="#000" stroke-width="5.7" stroke-linejoin="round" clip-path="url(#cb1)"/>
<rect x="614.00" y="389.80" width="486.60" height="339.90" fill="none" stroke="#000" stroke-width="2.3" />
<line x1="614.20" y1="729.70" x2="614.20" y2="736.70" stroke="#000" stroke-width="2.3" />
<line x1="722.05" y1="729.70" x2="722.05" y2="736.70" stroke="#000" stroke-width="2.3" />
<line x1="829.91" y1="729.70" x2="829.91" y2="736.70" stroke="#000" stroke-width="2.3" />
<line x1="937.76" y1="729.70" x2="937.76" y2="736.70" stroke="#000" stroke-width="2.3" />
<line x1="1045.62" y1="729.70" x2="1045.62" y2="736.70" stroke="#000" stroke-width="2.3" />
<line x1="607.00" y1="729.70" x2="614.00" y2="729.70" stroke="#000" stroke-width="2.3" />
<line x1="607.00" y1="653.95" x2="614.00" y2="653.95" stroke="#000" stroke-width="2.3" />
<line x1="607.00" y1="578.20" x2="614.00" y2="578.20" stroke="#000" stroke-width="2.3" />
<line x1="607.00" y1="502.44" x2="614.00" y2="502.44" stroke="#000" stroke-width="2.3" />
<line x1="607.00" y1="426.69" x2="614.00" y2="426.69" stroke="#000" stroke-width="2.3" />
<text x="626.20" y="421.70" font-size="30.6" text-anchor="start" fill="#000" >ii</text>
<text x="1091.50" y="416.70" font-size="30.6" text-anchor="end" fill="#000" ><tspan font-style="italic">N</tspan><tspan font-style="italic" font-size="19" dy="10.2">foci</tspan><tspan dy="-10.2" dx="4.5">= 35</tspan></text>
<text x="882.60" y="481.00" font-size="37" text-anchor="start" fill="#404040" font-weight="bold" font-style="italic">D<tspan font-size="32.5" dy="-4.2" dx="-0.9">*</tspan></text>
<line x1="667.10" y1="444.80" x2="710.00" y2="444.80" stroke="#383838" stroke-width="1.8" />
<line x1="857.50" y1="444.80" x2="900.00" y2="444.80" stroke="#383838" stroke-width="1.8" />
<line x1="738.90" y1="444.60" x2="830.30" y2="444.60" stroke="#7E2A2B" stroke-width="5.6" />
<path d="M708.8,444.8 C716.3,444.8 720.3,442.8 723.3,438.8" fill="none" stroke="#2A2A6E" stroke-width="1.1"/>
<path d="M730.3,441.8 C732.3,444.3 735.3,444.8 739.3,444.8" fill="none" stroke="#2A2A6E" stroke-width="1.1"/>
<g transform="translate(723.7,420.9) rotate(25)">
<ellipse cx="16.3" cy="0" rx="8.2" ry="19.4" fill="#2A9CC8"/>
<rect x="0" y="-19.4" width="16.3" height="38.8" fill="#2A9CC8"/>
<ellipse cx="0" cy="0" rx="8.2" ry="19.4" fill="#5CC4D5"/>
<path d="M3.6,-19.0 Q10.5,0 10.2,19.2" fill="none" stroke="#1F1F5E" stroke-width="1.3"/>
<path d="M11.0,-19.4 Q17.5,0 16.8,18.6" fill="none" stroke="#1F1F5E" stroke-width="1.3"/>
</g>
<path d="M827.7,444.8 C835.2,444.8 839.2,442.8 842.2,438.8" fill="none" stroke="#2A2A6E" stroke-width="1.1"/>
<path d="M849.2,441.8 C851.2,444.3 854.2,444.8 858.2,444.8" fill="none" stroke="#2A2A6E" stroke-width="1.1"/>
<g transform="translate(842.6,420.9) rotate(25)">
<ellipse cx="16.3" cy="0" rx="8.2" ry="19.4" fill="#2A9CC8"/>
<rect x="0" y="-19.4" width="16.3" height="38.8" fill="#2A9CC8"/>
<ellipse cx="0" cy="0" rx="8.2" ry="19.4" fill="#5CC4D5"/>
<path d="M3.6,-19.0 Q10.5,0 10.2,19.2" fill="none" stroke="#1F1F5E" stroke-width="1.3"/>
<path d="M11.0,-19.4 Q17.5,0 16.8,18.6" fill="none" stroke="#1F1F5E" stroke-width="1.3"/>
</g>
<rect x="295.08" y="1080.86" width="35.83" height="18.94" fill="#F2DADA" stroke="#000" stroke-width="2.8" />
<rect x="330.92" y="1061.91" width="35.83" height="37.89" fill="#F2DADA" stroke="#000" stroke-width="2.8" />
<rect x="366.75" y="986.14" width="35.83" height="113.66" fill="#F2DADA" stroke="#000" stroke-width="2.8" />
<rect x="402.58" y="1005.08" width="35.83" height="94.72" fill="#F2DADA" stroke="#000" stroke-width="2.8" />
<rect x="438.41" y="834.59" width="35.83" height="265.21" fill="#F2DADA" stroke="#000" stroke-width="2.8" />
<rect x="474.25" y="967.19" width="35.83" height="132.61" fill="#F2DADA" stroke="#000" stroke-width="2.8" />
<rect x="510.08" y="1005.08" width="35.83" height="94.72" fill="#F2DADA" stroke="#000" stroke-width="2.8" />
<line x1="313.00" y1="1052.06" x2="313.00" y2="1092.98" stroke="#000" stroke-width="2.9" />
<line x1="305.30" y1="1052.06" x2="320.70" y2="1052.06" stroke="#000" stroke-width="2.9" />
<line x1="305.30" y1="1092.98" x2="320.70" y2="1092.98" stroke="#000" stroke-width="2.9" />
<line x1="348.83" y1="1027.06" x2="348.83" y2="1080.86" stroke="#000" stroke-width="2.9" />
<line x1="341.13" y1="1027.06" x2="356.53" y2="1027.06" stroke="#000" stroke-width="2.9" />
<line x1="341.13" y1="1080.86" x2="356.53" y2="1080.86" stroke="#000" stroke-width="2.9" />
<line x1="384.67" y1="937.64" x2="384.67" y2="1022.51" stroke="#000" stroke-width="2.9" />
<line x1="376.97" y1="937.64" x2="392.37" y2="937.64" stroke="#000" stroke-width="2.9" />
<line x1="376.97" y1="1022.51" x2="392.37" y2="1022.51" stroke="#000" stroke-width="2.9" />
<line x1="420.50" y1="958.86" x2="420.50" y2="1038.42" stroke="#000" stroke-width="2.9" />
<line x1="412.80" y1="958.86" x2="428.20" y2="958.86" stroke="#000" stroke-width="2.9" />
<line x1="412.80" y1="1038.42" x2="428.20" y2="1038.42" stroke="#000" stroke-width="2.9" />
<line x1="456.33" y1="775.49" x2="456.33" y2="888.39" stroke="#000" stroke-width="2.9" />
<line x1="448.63" y1="775.49" x2="464.03" y2="775.49" stroke="#000" stroke-width="2.9" />
<line x1="448.63" y1="888.39" x2="464.03" y2="888.39" stroke="#000" stroke-width="2.9" />
<line x1="492.16" y1="916.43" x2="492.16" y2="1006.60" stroke="#000" stroke-width="2.9" />
<line x1="484.46" y1="916.43" x2="499.86" y2="916.43" stroke="#000" stroke-width="2.9" />
<line x1="484.46" y1="1006.60" x2="499.86" y2="1006.60" stroke="#000" stroke-width="2.9" />
<line x1="528.00" y1="958.86" x2="528.00" y2="1038.42" stroke="#000" stroke-width="2.9" />
<line x1="520.30" y1="958.86" x2="535.70" y2="958.86" stroke="#000" stroke-width="2.9" />
<line x1="520.30" y1="1038.42" x2="535.70" y2="1038.42" stroke="#000" stroke-width="2.9" />
<line x1="411.2" y1="759.8" x2="411.2" y2="1099.8" stroke="#000" stroke-width="4.6" stroke-dasharray="17 7.7"/>
<polyline points="98.0,1099.8 99.9,1099.8 101.7,1099.8 103.6,1099.8 105.5,1099.8 107.4,1099.8 109.2,1099.8 111.1,1099.8 113.0,1099.8 114.8,1099.8 116.7,1099.8 118.6,1099.8 120.5,1099.8 122.3,1099.8 124.2,1099.8 126.1,1099.8 127.9,1099.8 129.8,1099.8 131.7,1099.8 133.5,1099.8 135.4,1099.8 137.3,1099.8 139.2,1099.8 141.0,1099.8 142.9,1099.8 144.8,1099.8 146.6,1099.8 148.5,1099.8 150.4,1099.8 152.3,1099.8 154.1,1099.8 156.0,1099.8 157.9,1099.8 159.7,1099.8 161.6,1099.8 163.5,1099.8 165.4,1099.8 167.2,1099.8 169.1,1099.8 171.0,1099.8 172.8,1099.8 174.7,1099.8 176.6,1099.8 178.4,1099.8 180.3,1099.8 182.2,1099.8 184.1,1099.8 185.9,1099.8 187.8,1099.8 189.7,1099.8 191.5,1099.8 193.4,1099.8 195.3,1099.8 197.2,1099.7 199.0,1099.7 200.9,1099.7 202.8,1099.7 204.6,1099.7 206.5,1099.7 208.4,1099.7 210.3,1099.6 212.1,1099.6 214.0,1099.6 215.9,1099.5 217.7,1099.5 219.6,1099.4 221.5,1099.4 223.4,1099.3 225.2,1099.2 227.1,1099.2 229.0,1099.1 230.8,1099.0 232.7,1098.8 234.6,1098.7 236.4,1098.6 238.3,1098.4 240.2,1098.2 242.1,1098.0 243.9,1097.8 245.8,1097.6 247.7,1097.3 249.5,1097.0 251.4,1096.7 253.3,1096.3 255.2,1095.9 257.0,1095.5 258.9,1095.1 260.8,1094.6 262.6,1094.0 264.5,1093.5 266.4,1092.9 268.3,1092.2 270.1,1091.5 272.0,1090.8 273.9,1090.0 275.7,1089.2 277.6,1088.3 279.5,1087.4 281.3,1086.4 283.2,1085.4 285.1,1084.4 287.0,1083.3 288.8,1082.2 290.7,1081.0 292.6,1079.8 294.4,1078.6 296.3,1077.3 298.2,1076.0 300.1,1074.7 301.9,1073.4 303.8,1072.1 305.7,1070.8 307.5,1069.4 309.4,1068.1 311.3,1066.8 313.2,1065.5 315.0,1064.3 316.9,1063.1 318.8,1061.9 320.6,1060.7 322.5,1059.6 324.4,1058.6 326.3,1057.6 328.1,1056.7 330.0,1055.8 331.9,1055.1 333.7,1054.4 335.6,1053.8 337.5,1053.2 339.3,1052.8 341.2,1052.4 343.1,1052.1 345.0,1051.9 346.8,1051.8 348.7,1051.8 350.6,1051.8 352.4,1051.9 354.3,1052.0 356.2,1052.3 358.1,1052.5 359.9,1052.8 361.8,1053.1 363.7,1053.5 365.5,1053.8 367.4,1054.2 369.3,1054.5 371.2,1054.8 373.0,1055.0 374.9,1055.2 376.8,1055.3 378.6,1055.2 380.5,1055.1 382.4,1054.9 384.2,1054.5 386.1,1054.0 388.0,1053.2 389.9,1052.3 391.7,1051.2 393.6,1049.9 395.5,1048.3 397.3,1046.5 399.2,1044.4 401.1,1042.1 403.0,1039.5 404.8,1036.6 406.7,1033.4 408.6,1029.9 410.4,1026.2 412.3,1022.1 414.2,1017.8 416.1,1013.2 417.9,1008.3 419.8,1003.2 421.7,997.8 423.5,992.2 425.4,986.3 427.3,980.3 429.2,974.1 431.0,967.8 432.9,961.4 434.8,954.9 436.6,948.3 438.5,941.7 440.4,935.2 442.2,928.7 444.1,922.3 446.0,916.1 447.9,910.0 449.7,904.1 451.6,898.5 453.5,893.2 455.3,888.2 457.2,883.5 459.1,879.3 461.0,875.4 462.8,872.1 464.7,869.2 466.6,866.7 468.4,864.8 470.3,863.5 472.2,862.6 474.1,862.3 475.9,862.6 477.8,863.4 479.7,864.8 481.5,866.6 483.4,869.0 485.3,872.0 487.1,875.3 489.0,879.2 490.9,883.5 492.8,888.2 494.6,893.3 496.5,898.7 498.4,904.5 500.2,910.5 502.1,916.8 504.0,923.2 505.9,929.9 507.7,936.7 509.6,943.5 511.5,950.4 513.3,957.4 515.2,964.3 517.1,971.3 519.0,978.1 520.8,984.8 522.7,991.5 524.6,997.9 526.4,1004.3 528.3,1010.4 530.2,1016.3 532.0,1022.1 533.9,1027.6 535.8,1032.8 537.7,1037.9 539.5,1042.6 541.4,1047.2 543.3,1051.5 545.1,1055.5 547.0,1059.3 548.9,1062.9 550.8,1066.2 552.6,1069.3 554.5,1072.2 556.4,1074.8 558.2,1077.3 560.1,1079.6 562.0,1081.6 563.9,1083.5 565.7,1085.3 567.6,1086.9 569.5,1088.3 571.3,1089.6 573.2,1090.8 575.1,1091.8 577.0,1092.8 578.8,1093.6 580.7,1094.4 582.6,1095.1 584.4,1095.7" fill="none" stroke="#000" stroke-width="5.7" stroke-linejoin="round" clip-path="url(#cb2)"/>
<rect x="97.80" y="759.80" width="485.00" height="340.00" fill="none" stroke="#000" stroke-width="2.3" />
<line x1="98.00" y1="1099.80" x2="98.00" y2="1106.80" stroke="#000" stroke-width="2.3" />
<text x="98.30" y="1134.50" font-size="30.6" text-anchor="middle" fill="#000" >−8</text>
<line x1="205.50" y1="1099.80" x2="205.50" y2="1106.80" stroke="#000" stroke-width="2.3" />
<text x="205.80" y="1134.50" font-size="30.6" text-anchor="middle" fill="#000" >−6</text>
<line x1="313.00" y1="1099.80" x2="313.00" y2="1106.80" stroke="#000" stroke-width="2.3" />
<text x="313.30" y="1134.50" font-size="30.6" text-anchor="middle" fill="#000" >−4</text>
<line x1="420.50" y1="1099.80" x2="420.50" y2="1106.80" stroke="#000" stroke-width="2.3" />
<text x="420.80" y="1134.50" font-size="30.6" text-anchor="middle" fill="#000" >−2</text>
<line x1="528.00" y1="1099.80" x2="528.00" y2="1106.80" stroke="#000" stroke-width="2.3" />
<text x="528.00" y="1134.50" font-size="30.6" text-anchor="middle" fill="#000" >0</text>
<line x1="90.80" y1="1099.80" x2="97.80" y2="1099.80" stroke="#000" stroke-width="2.3" />
<text x="84.60" y="1110.70" font-size="30.6" text-anchor="end" fill="#000" >0.0</text>
<line x1="90.80" y1="1024.03" x2="97.80" y2="1024.03" stroke="#000" stroke-width="2.3" />
<text x="84.60" y="1034.93" font-size="30.6" text-anchor="end" fill="#000" >0.1</text>
<line x1="90.80" y1="948.25" x2="97.80" y2="948.25" stroke="#000" stroke-width="2.3" />
<text x="84.60" y="959.15" font-size="30.6" text-anchor="end" fill="#000" >0.2</text>
<line x1="90.80" y1="872.48" x2="97.80" y2="872.48" stroke="#000" stroke-width="2.3" />
<text x="84.60" y="883.38" font-size="30.6" text-anchor="end" fill="#000" >0.3</text>
<line x1="90.80" y1="796.70" x2="97.80" y2="796.70" stroke="#000" stroke-width="2.3" />
<text x="84.60" y="807.60" font-size="30.6" text-anchor="end" fill="#000" >0.4</text>
<text transform="translate(31.8,944.6) rotate(-90)" font-size="30.6" text-anchor="middle">Fraction</text>
<text x="255.1" y="1171.0" font-size="30.6">log<tspan font-size="19.5" dy="9">10</tspan><tspan dy="-9">(</tspan><tspan font-style="italic">D</tspan>) kbp<tspan font-size="19.5" dy="-10.5">2</tspan><tspan dy="10.5">/s</tspan></text>
<text x="113.90" y="791.70" font-size="30.6" text-anchor="start" fill="#000" >iii</text>
<text x="575.10" y="787.30" font-size="30.6" text-anchor="end" fill="#000" ><tspan font-style="italic">N</tspan><tspan font-style="italic" font-size="19" dy="10.2">foci</tspan><tspan dy="-10.2" dx="4.5">= 40</tspan></text>
<text x="364.60" y="852.60" font-size="37" text-anchor="start" fill="#404040" font-weight="bold" font-style="italic">D<tspan font-size="32.5" dy="-4.2" dx="-0.9">*</tspan></text>
<line x1="110.40" y1="816.00" x2="343.80" y2="816.00" stroke="#383838" stroke-width="2.0" />
<line x1="185.40" y1="816.00" x2="270.40" y2="816.00" stroke="#7E2A2B" stroke-width="5.8" />
<line x1="229.7" y1="797.7" x2="258.9" y2="833.7" stroke="#323F6B" stroke-width="7.4"/>
<line x1="229.7" y1="833.7" x2="258.9" y2="797.7" stroke="#323F6B" stroke-width="7.4"/>
<rect x="704.08" y="1071.74" width="35.95" height="28.06" fill="#8C7E7E" stroke="#000" stroke-width="2.8" />
<rect x="775.98" y="1043.67" width="35.95" height="56.13" fill="#8C7E7E" stroke="#000" stroke-width="2.8" />
<rect x="811.93" y="987.54" width="35.95" height="112.26" fill="#8C7E7E" stroke="#000" stroke-width="2.8" />
<rect x="847.88" y="1071.74" width="35.95" height="28.06" fill="#8C7E7E" stroke="#000" stroke-width="2.8" />
<rect x="883.84" y="959.48" width="35.95" height="140.32" fill="#8C7E7E" stroke="#000" stroke-width="2.8" />
<rect x="919.79" y="959.48" width="35.95" height="140.32" fill="#8C7E7E" stroke="#000" stroke-width="2.8" />
<rect x="955.74" y="1043.67" width="35.95" height="56.13" fill="#8C7E7E" stroke="#000" stroke-width="2.8" />
<rect x="991.69" y="931.41" width="35.95" height="168.39" fill="#8C7E7E" stroke="#000" stroke-width="2.8" />
<rect x="1027.64" y="1071.74" width="35.95" height="28.06" fill="#8C7E7E" stroke="#000" stroke-width="2.8" />
<line x1="722.05" y1="1030.09" x2="722.05" y2="1089.95" stroke="#000" stroke-width="2.9" />
<line x1="714.35" y1="1030.09" x2="729.75" y2="1030.09" stroke="#000" stroke-width="2.9" />
<line x1="714.35" y1="1089.95" x2="729.75" y2="1089.95" stroke="#000" stroke-width="2.9" />
<line x1="793.96" y1="993.72" x2="793.96" y2="1071.76" stroke="#000" stroke-width="2.9" />
<line x1="786.26" y1="993.72" x2="801.66" y2="993.72" stroke="#000" stroke-width="2.9" />
<line x1="786.26" y1="1071.76" x2="801.66" y2="1071.76" stroke="#000" stroke-width="2.9" />
<line x1="829.91" y1="927.79" x2="829.91" y2="1030.09" stroke="#000" stroke-width="2.9" />
<line x1="822.21" y1="927.79" x2="837.61" y2="927.79" stroke="#000" stroke-width="2.9" />
<line x1="822.21" y1="1030.09" x2="837.61" y2="1030.09" stroke="#000" stroke-width="2.9" />
<line x1="865.86" y1="1030.09" x2="865.86" y2="1089.95" stroke="#000" stroke-width="2.9" />
<line x1="858.16" y1="1030.09" x2="873.56" y2="1030.09" stroke="#000" stroke-width="2.9" />
<line x1="858.16" y1="1089.95" x2="873.56" y2="1089.95" stroke="#000" stroke-width="2.9" />
<line x1="901.81" y1="896.72" x2="901.81" y2="1007.36" stroke="#000" stroke-width="2.9" />
<line x1="894.11" y1="896.72" x2="909.51" y2="896.72" stroke="#000" stroke-width="2.9" />
<line x1="894.11" y1="1007.36" x2="909.51" y2="1007.36" stroke="#000" stroke-width="2.9" />
<line x1="937.76" y1="896.72" x2="937.76" y2="1007.36" stroke="#000" stroke-width="2.9" />
<line x1="930.06" y1="896.72" x2="945.46" y2="896.72" stroke="#000" stroke-width="2.9" />
<line x1="930.06" y1="1007.36" x2="945.46" y2="1007.36" stroke="#000" stroke-width="2.9" />
<line x1="973.71" y1="993.72" x2="973.71" y2="1071.76" stroke="#000" stroke-width="2.9" />
<line x1="966.01" y1="993.72" x2="981.41" y2="993.72" stroke="#000" stroke-width="2.9" />
<line x1="966.01" y1="1071.76" x2="981.41" y2="1071.76" stroke="#000" stroke-width="2.9" />
<line x1="1009.67" y1="865.66" x2="1009.67" y2="983.87" stroke="#000" stroke-width="2.9" />
<line x1="1001.97" y1="865.66" x2="1017.37" y2="865.66" stroke="#000" stroke-width="2.9" />
<line x1="1001.97" y1="983.87" x2="1017.37" y2="983.87" stroke="#000" stroke-width="2.9" />
<line x1="1045.62" y1="1030.09" x2="1045.62" y2="1089.95" stroke="#000" stroke-width="2.9" />
<line x1="1037.92" y1="1030.09" x2="1053.32" y2="1030.09" stroke="#000" stroke-width="2.9" />
<line x1="1037.92" y1="1089.95" x2="1053.32" y2="1089.95" stroke="#000" stroke-width="2.9" />
<line x1="927.4" y1="759.8" x2="927.4" y2="1099.8" stroke="#000" stroke-width="4.6" stroke-dasharray="17 7.7"/>
<polyline points="614.2,1099.6 616.1,1099.6 618.0,1099.6 619.8,1099.6 621.7,1099.6 623.6,1099.5 625.5,1099.5 627.3,1099.5 629.2,1099.4 631.1,1099.4 633.0,1099.4 634.8,1099.3 636.7,1099.3 638.6,1099.3 640.5,1099.2 642.4,1099.2 644.2,1099.1 646.1,1099.0 648.0,1099.0 649.9,1098.9 651.7,1098.8 653.6,1098.8 655.5,1098.7 657.4,1098.6 659.2,1098.5 661.1,1098.4 663.0,1098.3 664.9,1098.1 666.8,1098.0 668.6,1097.9 670.5,1097.7 672.4,1097.6 674.3,1097.4 676.1,1097.2 678.0,1097.0 679.9,1096.8 681.8,1096.6 683.7,1096.4 685.5,1096.1 687.4,1095.9 689.3,1095.6 691.2,1095.3 693.0,1095.0 694.9,1094.7 696.8,1094.4 698.7,1094.0 700.5,1093.7 702.4,1093.3 704.3,1092.9 706.2,1092.4 708.1,1092.0 709.9,1091.5 711.8,1091.0 713.7,1090.5 715.6,1090.0 717.4,1089.4 719.3,1088.8 721.2,1088.2 723.1,1087.6 724.9,1086.9 726.8,1086.2 728.7,1085.5 730.6,1084.7 732.5,1084.0 734.3,1083.2 736.2,1082.3 738.1,1081.5 740.0,1080.6 741.8,1079.7 743.7,1078.8 745.6,1077.8 747.5,1076.8 749.3,1075.8 751.2,1074.7 753.1,1073.6 755.0,1072.5 756.9,1071.4 758.7,1070.3 760.6,1069.1 762.5,1067.9 764.4,1066.6 766.2,1065.4 768.1,1064.1 770.0,1062.8 771.9,1061.5 773.8,1060.2 775.6,1058.8 777.5,1057.5 779.4,1056.1 781.3,1054.7 783.1,1053.3 785.0,1051.9 786.9,1050.5 788.8,1049.1 790.6,1047.6 792.5,1046.2 794.4,1044.8 796.3,1043.4 798.2,1041.9 800.0,1040.5 801.9,1039.1 803.8,1037.7 805.7,1036.4 807.5,1035.0 809.4,1033.6 811.3,1032.3 813.2,1031.0 815.0,1029.7 816.9,1028.5 818.8,1027.3 820.7,1026.1 822.6,1024.9 824.4,1023.8 826.3,1022.7 828.2,1021.7 830.1,1020.7 831.9,1019.7 833.8,1018.8 835.7,1018.0 837.6,1017.2 839.4,1016.4 841.3,1015.7 843.2,1015.1 845.1,1014.5 847.0,1014.0 848.8,1013.5 850.7,1013.1 852.6,1012.7 854.5,1012.4 856.3,1012.2 858.2,1012.0 860.1,1011.9 862.0,1011.8 863.9,1011.8 865.7,1011.9 867.6,1012.0 869.5,1012.2 871.4,1012.4 873.2,1012.7 875.1,1013.0 877.0,1013.4 878.9,1013.8 880.7,1014.3 882.6,1014.8 884.5,1015.4 886.4,1015.9 888.3,1016.5 890.1,1017.2 892.0,1017.8 893.9,1018.4 895.8,1019.1 897.6,1019.7 899.5,1020.4 901.4,1021.0 903.3,1021.6 905.1,1022.1 907.0,1022.6 908.9,1023.0 910.8,1023.4 912.7,1023.7 914.5,1023.9 916.4,1024.1 918.3,1024.1 920.2,1024.0 922.0,1023.7 923.9,1023.4 925.8,1022.8 927.7,1022.2 929.5,1021.4 931.4,1020.4 933.3,1019.2 935.2,1017.9 937.1,1016.4 938.9,1014.7 940.8,1012.9 942.7,1010.8 944.6,1008.6 946.4,1006.3 948.3,1003.8 950.2,1001.2 952.1,998.5 954.0,995.6 955.8,992.7 957.7,989.7 959.6,986.6 961.5,983.6 963.3,980.5 965.2,977.5 967.1,974.6 969.0,971.7 970.8,968.9 972.7,966.3 974.6,963.9 976.5,961.7 978.4,959.6 980.2,957.9 982.1,956.4 984.0,955.2 985.9,954.3 987.7,953.8 989.6,953.6 991.5,953.7 993.4,954.2 995.2,955.0 997.1,956.2 999.0,957.8 1000.9,959.7 1002.8,961.9 1004.6,964.5 1006.5,967.4 1008.4,970.5 1010.3,973.9 1012.1,977.6 1014.0,981.5 1015.9,985.6 1017.8,989.8 1019.6,994.2 1021.5,998.7 1023.4,1003.2 1025.3,1007.8 1027.2,1012.5 1029.0,1017.1 1030.9,1021.7 1032.8,1026.3 1034.7,1030.8 1036.5,1035.2 1038.4,1039.5 1040.3,1043.6 1042.2,1047.6 1044.1,1051.5 1045.9,1055.2 1047.8,1058.8 1049.7,1062.1 1051.6,1065.3 1053.4,1068.3 1055.3,1071.1 1057.2,1073.8 1059.1,1076.2 1060.9,1078.5 1062.8,1080.6 1064.7,1082.6 1066.6,1084.4 1068.5,1086.0 1070.3,1087.5 1072.2,1088.9 1074.1,1090.1 1076.0,1091.3 1077.8,1092.3 1079.7,1093.2 1081.6,1094.0 1083.5,1094.7 1085.3,1095.4 1087.2,1095.9 1089.1,1096.4 1091.0,1096.9 1092.9,1097.3 1094.7,1097.6 1096.6,1097.9 1098.5,1098.2 1100.4,1098.4 1102.2,1098.6" fill="none" stroke="#000" stroke-width="5.7" stroke-linejoin="round" clip-path="url(#cb3)"/>
<rect x="614.00" y="759.80" width="486.60" height="340.00" fill="none" stroke="#000" stroke-width="2.3" />
<line x1="614.20" y1="1099.80" x2="614.20" y2="1106.80" stroke="#000" stroke-width="2.3" />
<text x="614.50" y="1134.50" font-size="30.6" text-anchor="middle" fill="#000" >−8</text>
<line x1="722.05" y1="1099.80" x2="722.05" y2="1106.80" stroke="#000" stroke-width="2.3" />
<text x="722.35" y="1134.50" font-size="30.6" text-anchor="middle" fill="#000" >−6</text>
<line x1="829.91" y1="1099.80" x2="829.91" y2="1106.80" stroke="#000" stroke-width="2.3" />
<text x="830.21" y="1134.50" font-size="30.6" text-anchor="middle" fill="#000" >−4</text>
<line x1="937.76" y1="1099.80" x2="937.76" y2="1106.80" stroke="#000" stroke-width="2.3" />
<text x="938.06" y="1134.50" font-size="30.6" text-anchor="middle" fill="#000" >−2</text>
<line x1="1045.62" y1="1099.80" x2="1045.62" y2="1106.80" stroke="#000" stroke-width="2.3" />
<text x="1045.62" y="1134.50" font-size="30.6" text-anchor="middle" fill="#000" >0</text>
<line x1="607.00" y1="1099.80" x2="614.00" y2="1099.80" stroke="#000" stroke-width="2.3" />
<line x1="607.00" y1="1024.03" x2="614.00" y2="1024.03" stroke="#000" stroke-width="2.3" />
<line x1="607.00" y1="948.25" x2="614.00" y2="948.25" stroke="#000" stroke-width="2.3" />
<line x1="607.00" y1="872.48" x2="614.00" y2="872.48" stroke="#000" stroke-width="2.3" />
<line x1="607.00" y1="796.70" x2="614.00" y2="796.70" stroke="#000" stroke-width="2.3" />
<text x="771.3" y="1171.0" font-size="30.6">log<tspan font-size="19.5" dy="9">10</tspan><tspan dy="-9">(</tspan><tspan font-style="italic">D</tspan>) kbp<tspan font-size="19.5" dy="-10.5">2</tspan><tspan dy="10.5">/s</tspan></text>
<text x="626.90" y="791.70" font-size="30.6" text-anchor="start" fill="#000" >iv</text>
<text x="1092.90" y="787.30" font-size="30.6" text-anchor="end" fill="#000" ><tspan font-style="italic">N</tspan><tspan font-style="italic" font-size="19" dy="10.2">foci</tspan><tspan dy="-10.2" dx="4.5">= 27</tspan></text>
<text x="883.10" y="852.60" font-size="37" text-anchor="start" fill="#404040" font-weight="bold" font-style="italic">D<tspan font-size="32.5" dy="-4.2" dx="-0.9">*</tspan></text>
<line x1="667.10" y1="816.90" x2="710.00" y2="816.90" stroke="#383838" stroke-width="1.8" />
<line x1="857.50" y1="816.90" x2="900.00" y2="816.90" stroke="#383838" stroke-width="1.8" />
<line x1="738.90" y1="816.70" x2="830.30" y2="816.70" stroke="#7E2A2B" stroke-width="5.6" />
<path d="M708.8,816.9 C716.3,816.9 720.3,814.9 723.3,810.9" fill="none" stroke="#2A2A6E" stroke-width="1.1"/>
<path d="M730.3,813.9 C732.3,816.4 735.3,816.9 739.3,816.9" fill="none" stroke="#2A2A6E" stroke-width="1.1"/>
<g transform="translate(723.7,793.0) rotate(25)">
<ellipse cx="16.3" cy="0" rx="8.2" ry="19.4" fill="#2A9CC8"/>
<rect x="0" y="-19.4" width="16.3" height="38.8" fill="#2A9CC8"/>
<ellipse cx="0" cy="0" rx="8.2" ry="19.4" fill="#5CC4D5"/>
<path d="M3.6,-19.0 Q10.5,0 10.2,19.2" fill="none" stroke="#1F1F5E" stroke-width="1.3"/>
<path d="M11.0,-19.4 Q17.5,0 16.8,18.6" fill="none" stroke="#1F1F5E" stroke-width="1.3"/>
</g>
<path d="M827.7,816.9 C835.2,816.9 839.2,814.9 842.2,810.9" fill="none" stroke="#2A2A6E" stroke-width="1.1"/>
<path d="M849.2,813.9 C851.2,816.4 854.2,816.9 858.2,816.9" fill="none" stroke="#2A2A6E" stroke-width="1.1"/>
<g transform="translate(842.6,793.0) rotate(25)">
<ellipse cx="16.3" cy="0" rx="8.2" ry="19.4" fill="#2A9CC8"/>
<rect x="0" y="-19.4" width="16.3" height="38.8" fill="#2A9CC8"/>
<ellipse cx="0" cy="0" rx="8.2" ry="19.4" fill="#5CC4D5"/>
<path d="M3.6,-19.0 Q10.5,0 10.2,19.2" fill="none" stroke="#1F1F5E" stroke-width="1.3"/>
<path d="M11.0,-19.4 Q17.5,0 16.8,18.6" fill="none" stroke="#1F1F5E" stroke-width="1.3"/>
</g>
<line x1="785.8" y1="798.7" x2="815.0" y2="834.7" stroke="#323F6B" stroke-width="7.4"/>
<line x1="785.8" y1="834.7" x2="815.0" y2="798.7" stroke="#323F6B" stroke-width="7.4"/>
<text x="1123.40" y="32.80" font-size="36.5" text-anchor="start" fill="#000" font-weight="bold">c</text>
<rect x="1237.10" y="192.46" width="101.40" height="169.74" fill="#ED1C24" stroke="#000" stroke-width="2.9" />
<rect x="1364.10" y="106.36" width="101.40" height="255.84" fill="#7B1517" stroke="#000" stroke-width="2.9" />
<rect x="1491.30" y="304.70" width="101.40" height="57.50" fill="#F2DADA" stroke="#000" stroke-width="2.9" />
<rect x="1618.20" y="178.01" width="101.40" height="184.19" fill="#8C7E7E" stroke="#000" stroke-width="2.9" />
<line x1="1287.80" y1="174.01" x2="1287.80" y2="210.60" stroke="#000" stroke-width="3.2" />
<line x1="1277.80" y1="174.01" x2="1297.80" y2="174.01" stroke="#000" stroke-width="3.2" />
<line x1="1277.80" y1="210.60" x2="1297.80" y2="210.60" stroke="#000" stroke-width="3.2" />
<line x1="1414.80" y1="89.45" x2="1414.80" y2="127.88" stroke="#000" stroke-width="3.2" />
<line x1="1404.80" y1="89.45" x2="1424.80" y2="89.45" stroke="#000" stroke-width="3.2" />
<line x1="1404.80" y1="127.88" x2="1424.80" y2="127.88" stroke="#000" stroke-width="3.2" />
<line x1="1542.00" y1="283.48" x2="1542.00" y2="321.00" stroke="#000" stroke-width="3.2" />
<line x1="1532.00" y1="283.48" x2="1552.00" y2="283.48" stroke="#000" stroke-width="3.2" />
<line x1="1532.00" y1="321.00" x2="1552.00" y2="321.00" stroke="#000" stroke-width="3.2" />
<line x1="1668.90" y1="150.33" x2="1668.90" y2="207.22" stroke="#000" stroke-width="3.2" />
<line x1="1658.90" y1="150.33" x2="1678.90" y2="150.33" stroke="#000" stroke-width="3.2" />
<line x1="1658.90" y1="207.22" x2="1678.90" y2="207.22" stroke="#000" stroke-width="3.2" />
<rect x="1213.50" y="53.90" width="530.50" height="308.30" fill="none" stroke="#000" stroke-width="2.5" />
<line x1="1206.10" y1="362.20" x2="1213.50" y2="362.20" stroke="#000" stroke-width="2.4" />
<text x="1202.00" y="370.40" font-size="29.8" text-anchor="end" fill="#000" >0.0</text>
<line x1="1206.10" y1="331.37" x2="1213.50" y2="331.37" stroke="#000" stroke-width="2.4" />
<line x1="1206.10" y1="300.54" x2="1213.50" y2="300.54" stroke="#000" stroke-width="2.4" />
<text x="1202.00" y="308.74" font-size="29.8" text-anchor="end" fill="#000" >0.2</text>
<line x1="1206.10" y1="269.71" x2="1213.50" y2="269.71" stroke="#000" stroke-width="2.4" />
<line x1="1206.10" y1="238.88" x2="1213.50" y2="238.88" stroke="#000" stroke-width="2.4" />
<text x="1202.00" y="247.08" font-size="29.8" text-anchor="end" fill="#000" >0.4</text>
<line x1="1206.10" y1="208.05" x2="1213.50" y2="208.05" stroke="#000" stroke-width="2.4" />
<line x1="1206.10" y1="177.22" x2="1213.50" y2="177.22" stroke="#000" stroke-width="2.4" />
<text x="1202.00" y="185.42" font-size="29.8" text-anchor="end" fill="#000" >0.6</text>
<line x1="1206.10" y1="146.39" x2="1213.50" y2="146.39" stroke="#000" stroke-width="2.4" />
<line x1="1206.10" y1="115.56" x2="1213.50" y2="115.56" stroke="#000" stroke-width="2.4" />
<text x="1202.00" y="123.76" font-size="29.8" text-anchor="end" fill="#000" >0.8</text>
<line x1="1206.10" y1="84.73" x2="1213.50" y2="84.73" stroke="#000" stroke-width="2.4" />
<line x1="1206.10" y1="53.90" x2="1213.50" y2="53.90" stroke="#000" stroke-width="2.4" />
<text x="1201.00" y="61.70" font-size="29.8" text-anchor="end" fill="#000" >1</text>
<line x1="1287.80" y1="362.20" x2="1287.80" y2="369.70" stroke="#000" stroke-width="2.4" />
<line x1="1414.80" y1="362.20" x2="1414.80" y2="369.70" stroke="#000" stroke-width="2.4" />
<line x1="1542.00" y1="362.20" x2="1542.00" y2="369.70" stroke="#000" stroke-width="2.4" />
<line x1="1668.90" y1="362.20" x2="1668.90" y2="369.70" stroke="#000" stroke-width="2.4" />
<text transform="translate(1149.8,209.0) rotate(-90)" font-size="30.4" text-anchor="middle">Fraction</text>
<text x="1325.8" y="42.1" font-size="29.5" font-weight="bold" stroke="#000" stroke-width="0.3" textLength="312.8" lengthAdjust="spacingAndGlyphs">All ORC; fraction with D &lt; D*</text>
<text x="1225.30" y="91.40" font-size="30.3" text-anchor="start" fill="#000" >i</text>
<path d="M1287.7,82.5 L1287.7,72.5 L1412.1,72.5 L1412.1,82.5" fill="none" stroke="#000" stroke-width="2.9" stroke-linejoin="miter"/>
<text x="1351.00" y="75.30" font-size="23.6" text-anchor="middle" fill="#000" >******</text>
<path d="M1416.6,82.5 L1416.6,72.5 L1669.0,72.5 L1669.0,82.5" fill="none" stroke="#000" stroke-width="2.9" stroke-linejoin="miter"/>
<text x="1541.80" y="75.80" font-size="23.6" text-anchor="middle" fill="#000" >*</text>
<path d="M1544.3,145.9 L1544.3,137.9 L1669.0,137.9 L1669.0,145.9" fill="none" stroke="#000" stroke-width="2.9" stroke-linejoin="miter"/>
<text x="1605.50" y="141.90" font-size="23.6" text-anchor="middle" fill="#000" >******</text>
<rect x="1237.10" y="540.18" width="101.40" height="189.42" fill="#ED1C24" stroke="#000" stroke-width="2.9" />
<rect x="1364.10" y="471.30" width="101.40" height="258.30" fill="#7B1517" stroke="#000" stroke-width="2.9" />
<rect x="1491.30" y="676.71" width="101.40" height="52.89" fill="#F2DADA" stroke="#000" stroke-width="2.9" />
<rect x="1618.20" y="496.82" width="101.40" height="232.78" fill="#8C7E7E" stroke="#000" stroke-width="2.9" />
<line x1="1287.80" y1="514.04" x2="1287.80" y2="569.09" stroke="#000" stroke-width="3.2" />
<line x1="1277.80" y1="514.04" x2="1297.80" y2="514.04" stroke="#000" stroke-width="3.2" />
<line x1="1277.80" y1="569.09" x2="1297.80" y2="569.09" stroke="#000" stroke-width="3.2" />
<line x1="1414.80" y1="449.47" x2="1414.80" y2="505.12" stroke="#000" stroke-width="3.2" />
<line x1="1404.80" y1="449.47" x2="1424.80" y2="449.47" stroke="#000" stroke-width="3.2" />
<line x1="1404.80" y1="505.12" x2="1424.80" y2="505.12" stroke="#000" stroke-width="3.2" />
<line x1="1542.00" y1="621.05" x2="1542.00" y2="707.15" stroke="#000" stroke-width="3.2" />
<line x1="1532.00" y1="621.05" x2="1552.00" y2="621.05" stroke="#000" stroke-width="3.2" />
<line x1="1532.00" y1="707.15" x2="1552.00" y2="707.15" stroke="#000" stroke-width="3.2" />
<line x1="1668.90" y1="458.69" x2="1668.90" y2="555.56" stroke="#000" stroke-width="3.2" />
<line x1="1658.90" y1="458.69" x2="1678.90" y2="458.69" stroke="#000" stroke-width="3.2" />
<line x1="1658.90" y1="555.56" x2="1678.90" y2="555.56" stroke="#000" stroke-width="3.2" />
<rect x="1213.50" y="421.40" width="530.50" height="308.20" fill="none" stroke="#000" stroke-width="2.5" />
<line x1="1206.10" y1="729.60" x2="1213.50" y2="729.60" stroke="#000" stroke-width="2.4" />
<text x="1202.00" y="737.80" font-size="29.8" text-anchor="end" fill="#000" >0.0</text>
<line x1="1206.10" y1="698.78" x2="1213.50" y2="698.78" stroke="#000" stroke-width="2.4" />
<line x1="1206.10" y1="667.96" x2="1213.50" y2="667.96" stroke="#000" stroke-width="2.4" />
<text x="1202.00" y="676.16" font-size="29.8" text-anchor="end" fill="#000" >0.2</text>
<line x1="1206.10" y1="637.14" x2="1213.50" y2="637.14" stroke="#000" stroke-width="2.4" />
<line x1="1206.10" y1="606.32" x2="1213.50" y2="606.32" stroke="#000" stroke-width="2.4" />
<text x="1202.00" y="614.52" font-size="29.8" text-anchor="end" fill="#000" >0.4</text>
<line x1="1206.10" y1="575.50" x2="1213.50" y2="575.50" stroke="#000" stroke-width="2.4" />
<line x1="1206.10" y1="544.68" x2="1213.50" y2="544.68" stroke="#000" stroke-width="2.4" />
<text x="1202.00" y="552.88" font-size="29.8" text-anchor="end" fill="#000" >0.6</text>
<line x1="1206.10" y1="513.86" x2="1213.50" y2="513.86" stroke="#000" stroke-width="2.4" />
<line x1="1206.10" y1="483.04" x2="1213.50" y2="483.04" stroke="#000" stroke-width="2.4" />
<text x="1202.00" y="491.24" font-size="29.8" text-anchor="end" fill="#000" >0.8</text>
<line x1="1206.10" y1="452.22" x2="1213.50" y2="452.22" stroke="#000" stroke-width="2.4" />
<line x1="1206.10" y1="421.40" x2="1213.50" y2="421.40" stroke="#000" stroke-width="2.4" />
<text x="1201.00" y="429.20" font-size="29.8" text-anchor="end" fill="#000" >1</text>
<line x1="1287.80" y1="729.60" x2="1287.80" y2="737.10" stroke="#000" stroke-width="2.4" />
<line x1="1414.80" y1="729.60" x2="1414.80" y2="737.10" stroke="#000" stroke-width="2.4" />
<line x1="1542.00" y1="729.60" x2="1542.00" y2="737.10" stroke="#000" stroke-width="2.4" />
<line x1="1668.90" y1="729.60" x2="1668.90" y2="737.10" stroke="#000" stroke-width="2.4" />
<text transform="translate(1149.8,576.5) rotate(-90)" font-size="30.4" text-anchor="middle">Fraction</text>
<text x="1246" y="409.5" font-size="29.5" font-weight="bold" stroke="#000" stroke-width="0.3" textLength="465.7" lengthAdjust="spacingAndGlyphs">ORC initially in ori bin; fraction with D &lt; D*</text>
<text x="1225.30" y="458.90" font-size="30.3" text-anchor="start" fill="#000" >ii</text>
<path d="M1287.7,438.5 L1287.7,427.5 L1412.1,427.5 L1412.1,438.5" fill="none" stroke="#000" stroke-width="2.9" stroke-linejoin="miter"/>
<text x="1350.80" y="450.90" font-size="23.6" text-anchor="middle" fill="#000" >**</text>
<path d="M1416.6,438.5 L1416.6,427.5 L1669.0,427.5 L1669.0,438.5" fill="none" stroke="#000" stroke-width="2.9" stroke-linejoin="miter"/>
<text x="1549.00" y="445.60" font-size="23" text-anchor="middle" fill="#000" >n. s.</text>
<path d="M1541.6,452.6 L1541.6,450.6 L1669.0,450.6 L1669.0,452.6" fill="none" stroke="#000" stroke-width="2.9" stroke-linejoin="miter"/>
<text x="1608.70" y="472.70" font-size="23.6" text-anchor="middle" fill="#000" >**</text>
<rect x="1237.10" y="940.79" width="101.40" height="156.21" fill="#ED1C24" stroke="#000" stroke-width="2.9" />
<rect x="1364.10" y="844.54" width="101.40" height="252.46" fill="#7B1517" stroke="#000" stroke-width="2.9" />
<rect x="1491.30" y="1046.26" width="101.40" height="50.74" fill="#F2DADA" stroke="#000" stroke-width="2.9" />
<rect x="1618.20" y="934.02" width="101.40" height="162.98" fill="#8C7E7E" stroke="#000" stroke-width="2.9" />
<line x1="1287.80" y1="914.04" x2="1287.80" y2="969.70" stroke="#000" stroke-width="3.2" />
<line x1="1277.80" y1="914.04" x2="1297.80" y2="914.04" stroke="#000" stroke-width="3.2" />
<line x1="1277.80" y1="969.70" x2="1297.80" y2="969.70" stroke="#000" stroke-width="3.2" />
<line x1="1414.80" y1="823.02" x2="1414.80" y2="877.75" stroke="#000" stroke-width="3.2" />
<line x1="1404.80" y1="823.02" x2="1424.80" y2="823.02" stroke="#000" stroke-width="3.2" />
<line x1="1404.80" y1="877.75" x2="1424.80" y2="877.75" stroke="#000" stroke-width="3.2" />
<line x1="1542.00" y1="991.22" x2="1542.00" y2="1077.01" stroke="#000" stroke-width="3.2" />
<line x1="1532.00" y1="991.22" x2="1552.00" y2="991.22" stroke="#000" stroke-width="3.2" />
<line x1="1532.00" y1="1077.01" x2="1552.00" y2="1077.01" stroke="#000" stroke-width="3.2" />
<line x1="1668.90" y1="896.20" x2="1668.90" y2="992.14" stroke="#000" stroke-width="3.2" />
<line x1="1658.90" y1="896.20" x2="1678.90" y2="896.20" stroke="#000" stroke-width="3.2" />
<line x1="1658.90" y1="992.14" x2="1678.90" y2="992.14" stroke="#000" stroke-width="3.2" />
<rect x="1213.50" y="788.50" width="530.50" height="308.50" fill="none" stroke="#000" stroke-width="2.5" />
<line x1="1206.10" y1="1097.00" x2="1213.50" y2="1097.00" stroke="#000" stroke-width="2.4" />
<text x="1202.00" y="1105.20" font-size="29.8" text-anchor="end" fill="#000" >0.0</text>
<line x1="1206.10" y1="1066.15" x2="1213.50" y2="1066.15" stroke="#000" stroke-width="2.4" />
<line x1="1206.10" y1="1035.30" x2="1213.50" y2="1035.30" stroke="#000" stroke-width="2.4" />
<text x="1202.00" y="1043.50" font-size="29.8" text-anchor="end" fill="#000" >0.2</text>
<line x1="1206.10" y1="1004.45" x2="1213.50" y2="1004.45" stroke="#000" stroke-width="2.4" />
<line x1="1206.10" y1="973.60" x2="1213.50" y2="973.60" stroke="#000" stroke-width="2.4" />
<text x="1202.00" y="981.80" font-size="29.8" text-anchor="end" fill="#000" >0.4</text>
<line x1="1206.10" y1="942.75" x2="1213.50" y2="942.75" stroke="#000" stroke-width="2.4" />
<line x1="1206.10" y1="911.90" x2="1213.50" y2="911.90" stroke="#000" stroke-width="2.4" />
<text x="1202.00" y="920.10" font-size="29.8" text-anchor="end" fill="#000" >0.6</text>
<line x1="1206.10" y1="881.05" x2="1213.50" y2="881.05" stroke="#000" stroke-width="2.4" />
<line x1="1206.10" y1="850.20" x2="1213.50" y2="850.20" stroke="#000" stroke-width="2.4" />
<text x="1202.00" y="858.40" font-size="29.8" text-anchor="end" fill="#000" >0.8</text>
<line x1="1206.10" y1="819.35" x2="1213.50" y2="819.35" stroke="#000" stroke-width="2.4" />
<line x1="1206.10" y1="788.50" x2="1213.50" y2="788.50" stroke="#000" stroke-width="2.4" />
<text x="1201.00" y="796.30" font-size="29.8" text-anchor="end" fill="#000" >1</text>
<line x1="1287.80" y1="1097.00" x2="1287.80" y2="1104.50" stroke="#000" stroke-width="2.4" />
<line x1="1414.80" y1="1097.00" x2="1414.80" y2="1104.50" stroke="#000" stroke-width="2.4" />
<line x1="1542.00" y1="1097.00" x2="1542.00" y2="1104.50" stroke="#000" stroke-width="2.4" />
<line x1="1668.90" y1="1097.00" x2="1668.90" y2="1104.50" stroke="#000" stroke-width="2.4" />
<text transform="translate(1149.8,943.8) rotate(-90)" font-size="30.4" text-anchor="middle">Fraction</text>
<text x="1215.6" y="777.8" font-size="29.5" font-weight="bold" stroke="#000" stroke-width="0.3" textLength="528.4" lengthAdjust="spacingAndGlyphs">ORC initially outside ori bin; fraction with D &lt; D*</text>
<text x="1225.30" y="826.00" font-size="30.3" text-anchor="start" fill="#000" >iii</text>
<path d="M1287.7,815.8 L1287.7,804.8 L1412.1,804.8 L1412.1,815.8" fill="none" stroke="#000" stroke-width="2.9" stroke-linejoin="miter"/>
<text x="1348.50" y="810.10" font-size="23.6" text-anchor="middle" fill="#000" >****</text>
<path d="M1416.6,815.8 L1416.6,804.8 L1669.0,804.8 L1669.0,815.8" fill="none" stroke="#000" stroke-width="2.9" stroke-linejoin="miter"/>
<text x="1547.00" y="810.10" font-size="23.6" text-anchor="middle" fill="#000" >*</text>
<path d="M1542.2,892.8 L1542.2,884.8 L1669.0,884.8 L1669.0,892.8" fill="none" stroke="#000" stroke-width="2.9" stroke-linejoin="miter"/>
<text x="1601.00" y="886.30" font-size="23.6" text-anchor="middle" fill="#000" >****</text>
<text x="1285.40" y="1135.20" font-size="30.6" text-anchor="middle" fill="#000" >ARS1</text>
<text x="1414.00" y="1135.20" font-size="30.6" text-anchor="middle" fill="#000" >ARS1</text>
<text x="1414.00" y="1164.00" font-size="30.6" text-anchor="middle" fill="#000" >+nuc</text>
<text x="1542.20" y="1135.20" font-size="30.6" text-anchor="middle" fill="#000" >Mut ori</text>
<text x="1669.30" y="1135.20" font-size="30.6" text-anchor="middle" fill="#000" >Mut ori</text>
<text x="1669.30" y="1164.00" font-size="30.6" text-anchor="middle" fill="#000" >+nuc</text>
</svg>
</body></html>
